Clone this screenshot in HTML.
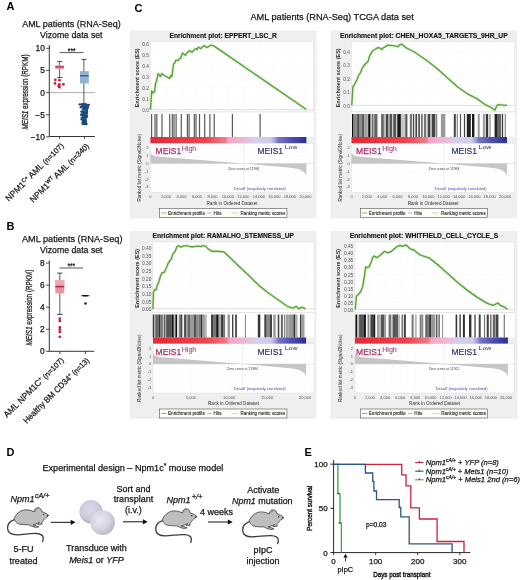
<!DOCTYPE html>
<html><head><meta charset="utf-8"><title>Figure</title>
<style>html,body{margin:0;padding:0;background:#fff;} svg{display:block;filter:blur(0.35px);} text{font-family:"Liberation Sans", sans-serif;} text:not([fill]){stroke:#161616;stroke-width:0.25px;}</style>
</head><body>
<svg width="520" height="580" viewBox="0 0 520 580" fill="#161616" font-family="Liberation Sans, sans-serif">
<rect width="520" height="580" fill="#fff"/>
<rect x="130" y="30.5" width="186.5" height="187.9" fill="#efefef"/>
<text x="223.25" y="37.80" font-size="6.8" font-weight="bold" text-anchor="middle" fill="#111" stroke="#111" stroke-width="0.12" textLength="107.4" lengthAdjust="spacingAndGlyphs">Enrichment plot: EPPERT_LSC_R</text>
<rect x="150.4" y="41.50" width="163.20" height="70.20" fill="#fff" stroke="#d8d8d8" stroke-width="0.4"/>
<line x1="150.4" y1="109.70" x2="313.6" y2="109.70" stroke="#efefef" stroke-width="0.5" stroke-dasharray="1,1"/>
<text x="148.80" y="112.20" font-size="4.8" text-anchor="end" fill="#555">0.0</text>
<line x1="150.4" y1="98.72" x2="313.6" y2="98.72" stroke="#efefef" stroke-width="0.5" stroke-dasharray="1,1"/>
<text x="148.80" y="101.22" font-size="4.8" text-anchor="end" fill="#555">0.1</text>
<line x1="150.4" y1="87.74" x2="313.6" y2="87.74" stroke="#efefef" stroke-width="0.5" stroke-dasharray="1,1"/>
<text x="148.80" y="90.24" font-size="4.8" text-anchor="end" fill="#555">0.2</text>
<line x1="150.4" y1="76.76" x2="313.6" y2="76.76" stroke="#efefef" stroke-width="0.5" stroke-dasharray="1,1"/>
<text x="148.80" y="79.26" font-size="4.8" text-anchor="end" fill="#555">0.3</text>
<line x1="150.4" y1="65.78" x2="313.6" y2="65.78" stroke="#efefef" stroke-width="0.5" stroke-dasharray="1,1"/>
<text x="148.80" y="68.28" font-size="4.8" text-anchor="end" fill="#555">0.4</text>
<line x1="150.4" y1="54.80" x2="313.6" y2="54.80" stroke="#efefef" stroke-width="0.5" stroke-dasharray="1,1"/>
<text x="148.80" y="57.30" font-size="4.8" text-anchor="end" fill="#555">0.5</text>
<line x1="150.4" y1="43.82" x2="313.6" y2="43.82" stroke="#efefef" stroke-width="0.5" stroke-dasharray="1,1"/>
<text x="148.80" y="46.32" font-size="4.8" text-anchor="end" fill="#555">0.6</text>
<line x1="150.4" y1="109.70" x2="313.6" y2="109.70" stroke="#cfcfcf" stroke-width="0.6"/>
<line x1="150.40" y1="41.50" x2="150.40" y2="111.70" stroke="#efefef" stroke-width="0.5" stroke-dasharray="1,1"/>
<line x1="165.90" y1="41.50" x2="165.90" y2="111.70" stroke="#efefef" stroke-width="0.5" stroke-dasharray="1,1"/>
<line x1="181.40" y1="41.50" x2="181.40" y2="111.70" stroke="#efefef" stroke-width="0.5" stroke-dasharray="1,1"/>
<line x1="196.90" y1="41.50" x2="196.90" y2="111.70" stroke="#efefef" stroke-width="0.5" stroke-dasharray="1,1"/>
<line x1="212.40" y1="41.50" x2="212.40" y2="111.70" stroke="#efefef" stroke-width="0.5" stroke-dasharray="1,1"/>
<line x1="227.90" y1="41.50" x2="227.90" y2="111.70" stroke="#efefef" stroke-width="0.5" stroke-dasharray="1,1"/>
<line x1="243.40" y1="41.50" x2="243.40" y2="111.70" stroke="#efefef" stroke-width="0.5" stroke-dasharray="1,1"/>
<line x1="258.90" y1="41.50" x2="258.90" y2="111.70" stroke="#efefef" stroke-width="0.5" stroke-dasharray="1,1"/>
<line x1="274.40" y1="41.50" x2="274.40" y2="111.70" stroke="#efefef" stroke-width="0.5" stroke-dasharray="1,1"/>
<line x1="289.90" y1="41.50" x2="289.90" y2="111.70" stroke="#efefef" stroke-width="0.5" stroke-dasharray="1,1"/>
<line x1="305.40" y1="41.50" x2="305.40" y2="111.70" stroke="#efefef" stroke-width="0.5" stroke-dasharray="1,1"/>
<text x="139.30" y="77.80" font-size="5" font-weight="bold" text-anchor="middle" fill="#333" transform="rotate(-90 139.30 77.80)" textLength="59" lengthAdjust="spacingAndGlyphs">Enrichment score (ES)</text>
<polyline points="150.50,109.70 151.70,90.90 152.70,92.80 154.60,91.80 155.60,83.20 156.50,81.30 158.10,73.60 160.40,76.50 161.90,73.60 164.20,75.50 169.60,78.40 171.00,75.50 171.90,76.50 173.50,64.00 174.80,63.00 175.80,60.10 177.70,60.70 179.20,59.20 180.60,58.20 182.50,53.00 185.40,55.30 186.90,53.00 189.60,50.50 192.10,52.40 193.10,51.10 195.40,48.60 196.90,49.50 198.50,47.20 200.80,48.60 202.70,46.70 204.60,45.70 206.50,47.60 208.50,46.70 210.40,45.30 212.30,45.30 214.20,46.10 306.40,109.50" fill="none" stroke="#d6f3c4" stroke-width="3.2" stroke-linejoin="round" opacity="0.8"/>
<polyline points="150.50,109.70 151.70,90.90 152.70,92.80 154.60,91.80 155.60,83.20 156.50,81.30 158.10,73.60 160.40,76.50 161.90,73.60 164.20,75.50 169.60,78.40 171.00,75.50 171.90,76.50 173.50,64.00 174.80,63.00 175.80,60.10 177.70,60.70 179.20,59.20 180.60,58.20 182.50,53.00 185.40,55.30 186.90,53.00 189.60,50.50 192.10,52.40 193.10,51.10 195.40,48.60 196.90,49.50 198.50,47.20 200.80,48.60 202.70,46.70 204.60,45.70 206.50,47.60 208.50,46.70 210.40,45.30 212.30,45.30 214.20,46.10 306.40,109.50" fill="none" stroke="#5c9c42" stroke-width="1.35" stroke-linejoin="round"/>
<rect x="150.4" y="112.70" width="163.20" height="24.40" fill="#fff"/>
<rect x="151.00" y="114.00" width="1.20" height="23.10" fill="#5a5a5a"/>
<rect x="154.40" y="114.00" width="1.20" height="23.10" fill="#5a5a5a"/>
<rect x="156.20" y="114.00" width="1.20" height="23.10" fill="#5a5a5a"/>
<rect x="161.40" y="114.00" width="1.20" height="23.10" fill="#5a5a5a"/>
<rect x="169.10" y="114.00" width="1.20" height="23.10" fill="#5a5a5a"/>
<rect x="171.70" y="114.00" width="1.20" height="23.10" fill="#5a5a5a"/>
<rect x="173.40" y="114.00" width="1.20" height="23.10" fill="#5a5a5a"/>
<rect x="175.50" y="114.00" width="1.20" height="23.10" fill="#5a5a5a"/>
<rect x="180.70" y="114.00" width="1.20" height="23.10" fill="#5a5a5a"/>
<rect x="186.80" y="114.00" width="1.20" height="23.10" fill="#5a5a5a"/>
<rect x="188.50" y="114.00" width="1.20" height="23.10" fill="#5a5a5a"/>
<rect x="193.70" y="114.00" width="1.20" height="23.10" fill="#5a5a5a"/>
<rect x="195.40" y="114.00" width="1.20" height="23.10" fill="#5a5a5a"/>
<rect x="198.90" y="114.00" width="1.20" height="23.10" fill="#5a5a5a"/>
<rect x="204.10" y="114.00" width="1.20" height="23.10" fill="#5a5a5a"/>
<rect x="209.30" y="114.00" width="1.20" height="23.10" fill="#5a5a5a"/>
<rect x="213.60" y="114.00" width="1.20" height="23.10" fill="#5a5a5a"/>
<rect x="231.80" y="114.00" width="1.20" height="23.10" fill="#5a5a5a"/>
<rect x="259.50" y="114.00" width="1.20" height="23.10" fill="#5a5a5a"/>
<defs><linearGradient id="cb1" x1="0" x2="1" y1="0" y2="0"><stop offset="0" stop-color="#e32a35"/><stop offset="0.35" stop-color="#ec4450"/><stop offset="0.48" stop-color="#f07a88"/><stop offset="0.50" stop-color="#f5a6c4"/><stop offset="0.64" stop-color="#e6c2de"/><stop offset="0.66" stop-color="#d6d0ec"/><stop offset="0.77" stop-color="#cfcbe9"/><stop offset="0.795" stop-color="#aaa6dc"/><stop offset="0.82" stop-color="#7474c4"/><stop offset="0.90" stop-color="#5050b4"/><stop offset="1" stop-color="#2c2c94"/></linearGradient></defs>
<rect x="150.4" y="137.00" width="156.00" height="6.40" fill="url(#cb1)"/>
<rect x="150.4" y="143.40" width="163.20" height="49.10" fill="#fff" stroke="#d8d8d8" stroke-width="0.4"/>
<line x1="150.4" y1="147.90" x2="313.6" y2="147.90" stroke="#efefef" stroke-width="0.5" stroke-dasharray="1,1"/>
<text x="148.60" y="149.30" font-size="4" text-anchor="end" fill="#555">2</text>
<line x1="150.4" y1="155.70" x2="313.6" y2="155.70" stroke="#efefef" stroke-width="0.5" stroke-dasharray="1,1"/>
<text x="148.60" y="157.10" font-size="4" text-anchor="end" fill="#555">1</text>
<text x="148.60" y="164.90" font-size="4" text-anchor="end" fill="#555">0</text>
<line x1="150.4" y1="171.30" x2="313.6" y2="171.30" stroke="#efefef" stroke-width="0.5" stroke-dasharray="1,1"/>
<text x="148.60" y="172.70" font-size="4" text-anchor="end" fill="#555">-1</text>
<line x1="150.4" y1="179.10" x2="313.6" y2="179.10" stroke="#efefef" stroke-width="0.5" stroke-dasharray="1,1"/>
<text x="148.60" y="180.50" font-size="4" text-anchor="end" fill="#555">-2</text>
<line x1="150.4" y1="186.90" x2="313.6" y2="186.90" stroke="#efefef" stroke-width="0.5" stroke-dasharray="1,1"/>
<text x="148.60" y="188.30" font-size="4" text-anchor="end" fill="#555">-3</text>
<line x1="150.40" y1="143.40" x2="150.40" y2="192.50" stroke="#efefef" stroke-width="0.5" stroke-dasharray="1,1"/>
<line x1="165.90" y1="143.40" x2="165.90" y2="192.50" stroke="#efefef" stroke-width="0.5" stroke-dasharray="1,1"/>
<line x1="181.40" y1="143.40" x2="181.40" y2="192.50" stroke="#efefef" stroke-width="0.5" stroke-dasharray="1,1"/>
<line x1="196.90" y1="143.40" x2="196.90" y2="192.50" stroke="#efefef" stroke-width="0.5" stroke-dasharray="1,1"/>
<line x1="212.40" y1="143.40" x2="212.40" y2="192.50" stroke="#efefef" stroke-width="0.5" stroke-dasharray="1,1"/>
<line x1="227.90" y1="143.40" x2="227.90" y2="192.50" stroke="#efefef" stroke-width="0.5" stroke-dasharray="1,1"/>
<line x1="243.40" y1="143.40" x2="243.40" y2="192.50" stroke="#efefef" stroke-width="0.5" stroke-dasharray="1,1"/>
<line x1="258.90" y1="143.40" x2="258.90" y2="192.50" stroke="#efefef" stroke-width="0.5" stroke-dasharray="1,1"/>
<line x1="274.40" y1="143.40" x2="274.40" y2="192.50" stroke="#efefef" stroke-width="0.5" stroke-dasharray="1,1"/>
<line x1="289.90" y1="143.40" x2="289.90" y2="192.50" stroke="#efefef" stroke-width="0.5" stroke-dasharray="1,1"/>
<line x1="305.40" y1="143.40" x2="305.40" y2="192.50" stroke="#efefef" stroke-width="0.5" stroke-dasharray="1,1"/>
<path d="M150.4,163.5 L150.4,153.36 C151.9,154.92 153.4,156.09 156.4,156.48 L243.80,163.5 L290.40,167.79 C300.4,168.96 304.9,171.30 306.0,175.20 L306.4,175.59 L306.4,163.5 Z" fill="#c6c6c6"/>
<line x1="150.4" y1="163.50" x2="313.6" y2="163.50" stroke="#c8c8c8" stroke-width="0.4"/>
<line x1="243.80" y1="143.40" x2="243.80" y2="192.50" stroke="#e2e2e2" stroke-width="0.5"/>
<text x="155.60" y="154.20" font-size="9.8" fill="#ad2a66" stroke="#ad2a66" stroke-width="0.25" textLength="25.6" lengthAdjust="spacingAndGlyphs">MEIS1</text>
<text x="181.70" y="151.10" font-size="6.6" fill="#c0407e" stroke="#9a6a80" stroke-width="0.15" textLength="14.6" lengthAdjust="spacingAndGlyphs">High</text>
<text x="257.50" y="154.10" font-size="9.8" fill="#2c3370" stroke="#2c3370" stroke-width="0.2" textLength="25.6" lengthAdjust="spacingAndGlyphs">MEIS1</text>
<text x="284.70" y="149.30" font-size="6" fill="#2c3370" textLength="12.8" lengthAdjust="spacingAndGlyphs">Low</text>
<text x="243.80" y="169.90" font-size="4" fill="#444" text-anchor="middle" textLength="31" lengthAdjust="spacingAndGlyphs">Zero cross at 11984</text>
<text x="233.20" y="189.80" font-size="4" fill="#4646a8" textLength="52.5" lengthAdjust="spacingAndGlyphs">'Desall' (negatively correlated)</text>
<text x="141.40" y="167.75" font-size="4.8" text-anchor="middle" fill="#333" transform="rotate(-90 141.40 167.75)" textLength="67.5" lengthAdjust="spacingAndGlyphs">Ranked list metric (Signal2Noise)</text>
<text x="150.40" y="198.30" font-size="4" text-anchor="middle" fill="#555">0</text>
<text x="165.90" y="198.30" font-size="4" text-anchor="middle" fill="#555">2,000</text>
<text x="181.40" y="198.30" font-size="4" text-anchor="middle" fill="#555">4,000</text>
<text x="196.90" y="198.30" font-size="4" text-anchor="middle" fill="#555">6,000</text>
<text x="212.40" y="198.30" font-size="4" text-anchor="middle" fill="#555">8,000</text>
<text x="227.90" y="198.30" font-size="4" text-anchor="middle" fill="#555">10,000</text>
<text x="243.40" y="198.30" font-size="4" text-anchor="middle" fill="#555">12,000</text>
<text x="258.90" y="198.30" font-size="4" text-anchor="middle" fill="#555">14,000</text>
<text x="274.40" y="198.30" font-size="4" text-anchor="middle" fill="#555">16,000</text>
<text x="289.90" y="198.30" font-size="4" text-anchor="middle" fill="#555">18,000</text>
<text x="305.40" y="198.30" font-size="4" text-anchor="middle" fill="#555">20,000</text>
<text x="232.00" y="204.50" font-size="5.2" text-anchor="middle" fill="#333" textLength="51" lengthAdjust="spacingAndGlyphs">Rank in Ordered Dataset</text>
<rect x="159.65" y="208.50" width="127.3" height="9" fill="#fdfdf8" stroke="#333" stroke-width="0.5"/>
<line x1="161.25" y1="213.00" x2="166.65" y2="213.00" stroke="#66b044" stroke-width="0.8"/>
<text x="168.05" y="214.70" font-size="4.6" fill="#1e1e1e" stroke="#1e1e1e" stroke-width="0.1" textLength="36.9" lengthAdjust="spacingAndGlyphs">Enrichment profile</text>
<line x1="207.65" y1="213.00" x2="211.65" y2="213.00" stroke="#333" stroke-width="0.6" stroke-dasharray="0.8,0.6"/>
<text x="213.55" y="214.70" font-size="4.6" fill="#1e1e1e" stroke="#1e1e1e" stroke-width="0.1" textLength="8" lengthAdjust="spacingAndGlyphs">Hits</text>
<line x1="231.65" y1="213.00" x2="238.55" y2="213.00" stroke="#c8c8c8" stroke-width="0.8"/>
<text x="240.45" y="214.70" font-size="4.6" fill="#1e1e1e" stroke="#1e1e1e" stroke-width="0.1" textLength="44.8" lengthAdjust="spacingAndGlyphs">Ranking metric scores</text>
<rect x="330.5" y="30.5" width="186.8" height="187.9" fill="#efefef"/>
<text x="423.90" y="37.80" font-size="6.8" font-weight="bold" text-anchor="middle" fill="#111" stroke="#111" stroke-width="0.12" textLength="167.7" lengthAdjust="spacingAndGlyphs">Enrichment plot: CHEN_HOXA5_TARGETS_9HR_UP</text>
<rect x="351.5" y="41.50" width="163.30" height="70.20" fill="#fff" stroke="#d8d8d8" stroke-width="0.4"/>
<line x1="351.5" y1="105.40" x2="514.8" y2="105.40" stroke="#efefef" stroke-width="0.5" stroke-dasharray="1,1"/>
<text x="349.90" y="107.90" font-size="4.8" text-anchor="end" fill="#555">0.0</text>
<line x1="351.5" y1="91.93" x2="514.8" y2="91.93" stroke="#efefef" stroke-width="0.5" stroke-dasharray="1,1"/>
<text x="349.90" y="94.43" font-size="4.8" text-anchor="end" fill="#555">0.1</text>
<line x1="351.5" y1="78.45" x2="514.8" y2="78.45" stroke="#efefef" stroke-width="0.5" stroke-dasharray="1,1"/>
<text x="349.90" y="80.95" font-size="4.8" text-anchor="end" fill="#555">0.2</text>
<line x1="351.5" y1="64.98" x2="514.8" y2="64.98" stroke="#efefef" stroke-width="0.5" stroke-dasharray="1,1"/>
<text x="349.90" y="67.48" font-size="4.8" text-anchor="end" fill="#555">0.3</text>
<line x1="351.5" y1="51.50" x2="514.8" y2="51.50" stroke="#efefef" stroke-width="0.5" stroke-dasharray="1,1"/>
<text x="349.90" y="54.00" font-size="4.8" text-anchor="end" fill="#555">0.4</text>
<line x1="351.5" y1="105.40" x2="514.8" y2="105.40" stroke="#cfcfcf" stroke-width="0.6"/>
<line x1="351.50" y1="41.50" x2="351.50" y2="111.70" stroke="#efefef" stroke-width="0.5" stroke-dasharray="1,1"/>
<line x1="366.86" y1="41.50" x2="366.86" y2="111.70" stroke="#efefef" stroke-width="0.5" stroke-dasharray="1,1"/>
<line x1="382.22" y1="41.50" x2="382.22" y2="111.70" stroke="#efefef" stroke-width="0.5" stroke-dasharray="1,1"/>
<line x1="397.58" y1="41.50" x2="397.58" y2="111.70" stroke="#efefef" stroke-width="0.5" stroke-dasharray="1,1"/>
<line x1="412.94" y1="41.50" x2="412.94" y2="111.70" stroke="#efefef" stroke-width="0.5" stroke-dasharray="1,1"/>
<line x1="428.30" y1="41.50" x2="428.30" y2="111.70" stroke="#efefef" stroke-width="0.5" stroke-dasharray="1,1"/>
<line x1="443.66" y1="41.50" x2="443.66" y2="111.70" stroke="#efefef" stroke-width="0.5" stroke-dasharray="1,1"/>
<line x1="459.02" y1="41.50" x2="459.02" y2="111.70" stroke="#efefef" stroke-width="0.5" stroke-dasharray="1,1"/>
<line x1="474.38" y1="41.50" x2="474.38" y2="111.70" stroke="#efefef" stroke-width="0.5" stroke-dasharray="1,1"/>
<line x1="489.74" y1="41.50" x2="489.74" y2="111.70" stroke="#efefef" stroke-width="0.5" stroke-dasharray="1,1"/>
<line x1="505.10" y1="41.50" x2="505.10" y2="111.70" stroke="#efefef" stroke-width="0.5" stroke-dasharray="1,1"/>
<text x="339.80" y="77.80" font-size="5" font-weight="bold" text-anchor="middle" fill="#333" transform="rotate(-90 339.80 77.80)" textLength="59" lengthAdjust="spacingAndGlyphs">Enrichment score (ES)</text>
<polyline points="351.80,105.30 352.80,87.00 354.70,84.20 356.10,81.30 357.20,79.30 358.60,75.50 360.50,72.60 362.40,67.80 364.30,64.90 366.30,63.00 368.20,61.10 369.50,56.30 371.10,53.40 373.00,50.50 374.90,49.50 377.80,47.60 379.70,48.00 381.70,49.50 383.60,47.60 385.50,46.70 387.40,45.10 390.30,45.30 393.20,45.70 396.10,46.10 398.00,46.70 399.90,44.70 401.80,44.20 405.80,47.60 413.50,51.50 419.20,55.30 428.80,62.00 438.50,69.70 448.10,78.40 457.70,87.00 467.30,93.80 476.90,98.60 484.60,104.30 490.40,107.20 495.00,110.10 496.80,105.50 498.50,104.60 501.50,104.90 504.60,105.40 506.90,104.90" fill="none" stroke="#d6f3c4" stroke-width="3.2" stroke-linejoin="round" opacity="0.8"/>
<polyline points="351.80,105.30 352.80,87.00 354.70,84.20 356.10,81.30 357.20,79.30 358.60,75.50 360.50,72.60 362.40,67.80 364.30,64.90 366.30,63.00 368.20,61.10 369.50,56.30 371.10,53.40 373.00,50.50 374.90,49.50 377.80,47.60 379.70,48.00 381.70,49.50 383.60,47.60 385.50,46.70 387.40,45.10 390.30,45.30 393.20,45.70 396.10,46.10 398.00,46.70 399.90,44.70 401.80,44.20 405.80,47.60 413.50,51.50 419.20,55.30 428.80,62.00 438.50,69.70 448.10,78.40 457.70,87.00 467.30,93.80 476.90,98.60 484.60,104.30 490.40,107.20 495.00,110.10 496.80,105.50 498.50,104.60 501.50,104.90 504.60,105.40 506.90,104.90" fill="none" stroke="#5c9c42" stroke-width="1.35" stroke-linejoin="round"/>
<rect x="351.5" y="112.70" width="163.30" height="24.40" fill="#fff"/>
<rect x="352.00" y="114.00" width="1.60" height="23.10" fill="#111"/>
<rect x="353.60" y="114.00" width="3.70" height="23.10" fill="#8a8a8a"/>
<rect x="357.30" y="114.00" width="1.60" height="23.10" fill="#333"/>
<rect x="358.90" y="114.00" width="3.20" height="23.10" fill="#8a8a8a"/>
<rect x="362.10" y="114.00" width="2.00" height="23.10" fill="#555"/>
<rect x="364.10" y="114.00" width="3.70" height="23.10" fill="#a0a0a0"/>
<rect x="368.20" y="114.00" width="2.40" height="23.10" fill="#111"/>
<rect x="370.60" y="114.00" width="1.60" height="23.10" fill="#c8c8c8"/>
<rect x="372.20" y="114.00" width="1.20" height="23.10" fill="#444"/>
<rect x="373.40" y="114.00" width="0.80" height="23.10" fill="#aaa"/>
<rect x="374.20" y="114.00" width="3.30" height="23.10" fill="#666"/>
<rect x="381.10" y="114.00" width="2.80" height="23.10" fill="#666"/>
<rect x="383.90" y="114.00" width="2.10" height="23.10" fill="#bbb"/>
<rect x="386.00" y="114.00" width="2.00" height="23.10" fill="#444"/>
<rect x="388.00" y="114.00" width="1.60" height="23.10" fill="#aaa"/>
<rect x="389.60" y="114.00" width="2.80" height="23.10" fill="#555"/>
<rect x="392.40" y="114.00" width="0.80" height="23.10" fill="#ddd"/>
<rect x="393.20" y="114.00" width="2.80" height="23.10" fill="#555"/>
<rect x="396.00" y="114.00" width="1.30" height="23.10" fill="#ccc"/>
<rect x="397.30" y="114.00" width="3.60" height="23.10" fill="#181818"/>
<rect x="400.90" y="114.00" width="4.40" height="23.10" fill="#c8c8c8"/>
<rect x="405.30" y="114.00" width="2.10" height="23.10" fill="#555"/>
<rect x="409.80" y="114.00" width="2.40" height="23.10" fill="#777"/>
<rect x="413.00" y="114.00" width="1.20" height="23.10" fill="#444"/>
<rect x="415.40" y="114.00" width="1.70" height="23.10" fill="#444"/>
<rect x="418.30" y="114.00" width="1.60" height="23.10" fill="#444"/>
<rect x="421.10" y="114.00" width="1.60" height="23.10" fill="#666"/>
<rect x="423.90" y="114.00" width="2.40" height="23.10" fill="#777"/>
<rect x="427.60" y="114.00" width="2.80" height="23.10" fill="#444"/>
<rect x="431.60" y="114.00" width="3.70" height="23.10" fill="#444"/>
<rect x="435.70" y="114.00" width="1.60" height="23.10" fill="#888"/>
<rect x="440.90" y="114.00" width="4.40" height="23.10" fill="#999"/>
<rect x="453.80" y="114.00" width="2.00" height="23.10" fill="#444"/>
<rect x="456.70" y="114.00" width="1.20" height="23.10" fill="#888"/>
<rect x="459.90" y="114.00" width="1.20" height="23.10" fill="#555"/>
<rect x="463.90" y="114.00" width="1.20" height="23.10" fill="#444"/>
<rect x="466.80" y="114.00" width="4.00" height="23.10" fill="#222"/>
<rect x="472.00" y="114.00" width="2.40" height="23.10" fill="#1a1a1a"/>
<rect x="477.70" y="114.00" width="2.00" height="23.10" fill="#999"/>
<rect x="482.90" y="114.00" width="2.00" height="23.10" fill="#999"/>
<rect x="485.80" y="114.00" width="2.40" height="23.10" fill="#333"/>
<rect x="489.40" y="114.00" width="1.20" height="23.10" fill="#888"/>
<rect x="494.60" y="114.00" width="2.40" height="23.10" fill="#222"/>
<rect x="497.00" y="114.00" width="4.10" height="23.10" fill="#666"/>
<rect x="501.90" y="114.00" width="1.20" height="23.10" fill="#333"/>
<rect x="504.70" y="114.00" width="1.20" height="23.10" fill="#888"/>
<defs><linearGradient id="cb2" x1="0" x2="1" y1="0" y2="0"><stop offset="0" stop-color="#e32a35"/><stop offset="0.35" stop-color="#ec4450"/><stop offset="0.48" stop-color="#f07a88"/><stop offset="0.50" stop-color="#f5a6c4"/><stop offset="0.64" stop-color="#e6c2de"/><stop offset="0.66" stop-color="#d6d0ec"/><stop offset="0.77" stop-color="#cfcbe9"/><stop offset="0.795" stop-color="#aaa6dc"/><stop offset="0.82" stop-color="#7474c4"/><stop offset="0.90" stop-color="#5050b4"/><stop offset="1" stop-color="#2c2c94"/></linearGradient></defs>
<rect x="351.5" y="137.00" width="155.50" height="6.40" fill="url(#cb2)"/>
<rect x="351.5" y="143.40" width="163.30" height="49.10" fill="#fff" stroke="#d8d8d8" stroke-width="0.4"/>
<line x1="351.5" y1="147.90" x2="514.8" y2="147.90" stroke="#efefef" stroke-width="0.5" stroke-dasharray="1,1"/>
<text x="349.70" y="149.30" font-size="4" text-anchor="end" fill="#555">2</text>
<line x1="351.5" y1="155.70" x2="514.8" y2="155.70" stroke="#efefef" stroke-width="0.5" stroke-dasharray="1,1"/>
<text x="349.70" y="157.10" font-size="4" text-anchor="end" fill="#555">1</text>
<text x="349.70" y="164.90" font-size="4" text-anchor="end" fill="#555">0</text>
<line x1="351.5" y1="171.30" x2="514.8" y2="171.30" stroke="#efefef" stroke-width="0.5" stroke-dasharray="1,1"/>
<text x="349.70" y="172.70" font-size="4" text-anchor="end" fill="#555">-1</text>
<line x1="351.5" y1="179.10" x2="514.8" y2="179.10" stroke="#efefef" stroke-width="0.5" stroke-dasharray="1,1"/>
<text x="349.70" y="180.50" font-size="4" text-anchor="end" fill="#555">-2</text>
<line x1="351.5" y1="186.90" x2="514.8" y2="186.90" stroke="#efefef" stroke-width="0.5" stroke-dasharray="1,1"/>
<text x="349.70" y="188.30" font-size="4" text-anchor="end" fill="#555">-3</text>
<line x1="351.50" y1="143.40" x2="351.50" y2="192.50" stroke="#efefef" stroke-width="0.5" stroke-dasharray="1,1"/>
<line x1="366.86" y1="143.40" x2="366.86" y2="192.50" stroke="#efefef" stroke-width="0.5" stroke-dasharray="1,1"/>
<line x1="382.22" y1="143.40" x2="382.22" y2="192.50" stroke="#efefef" stroke-width="0.5" stroke-dasharray="1,1"/>
<line x1="397.58" y1="143.40" x2="397.58" y2="192.50" stroke="#efefef" stroke-width="0.5" stroke-dasharray="1,1"/>
<line x1="412.94" y1="143.40" x2="412.94" y2="192.50" stroke="#efefef" stroke-width="0.5" stroke-dasharray="1,1"/>
<line x1="428.30" y1="143.40" x2="428.30" y2="192.50" stroke="#efefef" stroke-width="0.5" stroke-dasharray="1,1"/>
<line x1="443.66" y1="143.40" x2="443.66" y2="192.50" stroke="#efefef" stroke-width="0.5" stroke-dasharray="1,1"/>
<line x1="459.02" y1="143.40" x2="459.02" y2="192.50" stroke="#efefef" stroke-width="0.5" stroke-dasharray="1,1"/>
<line x1="474.38" y1="143.40" x2="474.38" y2="192.50" stroke="#efefef" stroke-width="0.5" stroke-dasharray="1,1"/>
<line x1="489.74" y1="143.40" x2="489.74" y2="192.50" stroke="#efefef" stroke-width="0.5" stroke-dasharray="1,1"/>
<line x1="505.10" y1="143.40" x2="505.10" y2="192.50" stroke="#efefef" stroke-width="0.5" stroke-dasharray="1,1"/>
<path d="M351.5,163.5 L351.5,153.36 C353.0,154.92 354.5,156.09 357.5,156.48 L444.00,163.5 L491.00,167.79 C501.0,168.96 505.5,171.30 506.6,175.20 L507.0,175.59 L507.0,163.5 Z" fill="#c6c6c6"/>
<line x1="351.5" y1="163.50" x2="514.8" y2="163.50" stroke="#c8c8c8" stroke-width="0.4"/>
<line x1="444.00" y1="143.40" x2="444.00" y2="192.50" stroke="#e2e2e2" stroke-width="0.5"/>
<text x="356.10" y="154.20" font-size="9.8" fill="#ad2a66" stroke="#ad2a66" stroke-width="0.25" textLength="25.6" lengthAdjust="spacingAndGlyphs">MEIS1</text>
<text x="382.20" y="151.10" font-size="6.6" fill="#c0407e" stroke="#9a6a80" stroke-width="0.15" textLength="14.6" lengthAdjust="spacingAndGlyphs">High</text>
<text x="451.40" y="154.10" font-size="9.8" fill="#2c3370" stroke="#2c3370" stroke-width="0.2" textLength="25.6" lengthAdjust="spacingAndGlyphs">MEIS1</text>
<text x="478.60" y="149.30" font-size="6" fill="#2c3370" textLength="12.8" lengthAdjust="spacingAndGlyphs">Low</text>
<text x="444.00" y="169.90" font-size="4" fill="#444" text-anchor="middle" textLength="31" lengthAdjust="spacingAndGlyphs">Zero cross at 11984</text>
<text x="434.10" y="189.80" font-size="4" fill="#4646a8" textLength="52.5" lengthAdjust="spacingAndGlyphs">'Desall' (negatively correlated)</text>
<text x="341.90" y="167.75" font-size="4.8" text-anchor="middle" fill="#333" transform="rotate(-90 341.90 167.75)" textLength="67.5" lengthAdjust="spacingAndGlyphs">Ranked list metric (Signal2Noise)</text>
<text x="351.50" y="198.30" font-size="4" text-anchor="middle" fill="#555">0</text>
<text x="366.86" y="198.30" font-size="4" text-anchor="middle" fill="#555">2,000</text>
<text x="382.22" y="198.30" font-size="4" text-anchor="middle" fill="#555">4,000</text>
<text x="397.58" y="198.30" font-size="4" text-anchor="middle" fill="#555">6,000</text>
<text x="412.94" y="198.30" font-size="4" text-anchor="middle" fill="#555">8,000</text>
<text x="428.30" y="198.30" font-size="4" text-anchor="middle" fill="#555">10,000</text>
<text x="443.66" y="198.30" font-size="4" text-anchor="middle" fill="#555">12,000</text>
<text x="459.02" y="198.30" font-size="4" text-anchor="middle" fill="#555">14,000</text>
<text x="474.38" y="198.30" font-size="4" text-anchor="middle" fill="#555">16,000</text>
<text x="489.74" y="198.30" font-size="4" text-anchor="middle" fill="#555">18,000</text>
<text x="505.10" y="198.30" font-size="4" text-anchor="middle" fill="#555">20,000</text>
<text x="433.15" y="204.50" font-size="5.2" text-anchor="middle" fill="#333" textLength="51" lengthAdjust="spacingAndGlyphs">Rank in Ordered Dataset</text>
<rect x="360.30" y="208.50" width="127.3" height="9" fill="#fdfdf8" stroke="#333" stroke-width="0.5"/>
<line x1="361.90" y1="213.00" x2="367.30" y2="213.00" stroke="#66b044" stroke-width="0.8"/>
<text x="368.70" y="214.70" font-size="4.6" fill="#1e1e1e" stroke="#1e1e1e" stroke-width="0.1" textLength="36.9" lengthAdjust="spacingAndGlyphs">Enrichment profile</text>
<line x1="408.30" y1="213.00" x2="412.30" y2="213.00" stroke="#333" stroke-width="0.6" stroke-dasharray="0.8,0.6"/>
<text x="414.20" y="214.70" font-size="4.6" fill="#1e1e1e" stroke="#1e1e1e" stroke-width="0.1" textLength="8" lengthAdjust="spacingAndGlyphs">Hits</text>
<line x1="432.30" y1="213.00" x2="439.20" y2="213.00" stroke="#c8c8c8" stroke-width="0.8"/>
<text x="441.10" y="214.70" font-size="4.6" fill="#1e1e1e" stroke="#1e1e1e" stroke-width="0.1" textLength="44.8" lengthAdjust="spacingAndGlyphs">Ranking metric scores</text>
<rect x="130" y="231" width="186.5" height="187.9" fill="#efefef"/>
<text x="223.25" y="238.30" font-size="6.8" font-weight="bold" text-anchor="middle" fill="#111" stroke="#111" stroke-width="0.12" textLength="141.5" lengthAdjust="spacingAndGlyphs">Enrichment plot: RAMALHO_STEMNESS_UP</text>
<rect x="153" y="242.00" width="161.00" height="70.20" fill="#fff" stroke="#d8d8d8" stroke-width="0.4"/>
<line x1="153" y1="308.80" x2="314.0" y2="308.80" stroke="#efefef" stroke-width="0.5" stroke-dasharray="1,1"/>
<text x="151.40" y="311.30" font-size="4.8" text-anchor="end" fill="#555">0.00</text>
<line x1="153" y1="301.15" x2="314.0" y2="301.15" stroke="#efefef" stroke-width="0.5" stroke-dasharray="1,1"/>
<text x="151.40" y="303.65" font-size="4.8" text-anchor="end" fill="#555">0.05</text>
<line x1="153" y1="293.50" x2="314.0" y2="293.50" stroke="#efefef" stroke-width="0.5" stroke-dasharray="1,1"/>
<text x="151.40" y="296.00" font-size="4.8" text-anchor="end" fill="#555">0.10</text>
<line x1="153" y1="285.85" x2="314.0" y2="285.85" stroke="#efefef" stroke-width="0.5" stroke-dasharray="1,1"/>
<text x="151.40" y="288.35" font-size="4.8" text-anchor="end" fill="#555">0.15</text>
<line x1="153" y1="278.20" x2="314.0" y2="278.20" stroke="#efefef" stroke-width="0.5" stroke-dasharray="1,1"/>
<text x="151.40" y="280.70" font-size="4.8" text-anchor="end" fill="#555">0.20</text>
<line x1="153" y1="270.55" x2="314.0" y2="270.55" stroke="#efefef" stroke-width="0.5" stroke-dasharray="1,1"/>
<text x="151.40" y="273.05" font-size="4.8" text-anchor="end" fill="#555">0.25</text>
<line x1="153" y1="262.90" x2="314.0" y2="262.90" stroke="#efefef" stroke-width="0.5" stroke-dasharray="1,1"/>
<text x="151.40" y="265.40" font-size="4.8" text-anchor="end" fill="#555">0.30</text>
<line x1="153" y1="255.25" x2="314.0" y2="255.25" stroke="#efefef" stroke-width="0.5" stroke-dasharray="1,1"/>
<text x="151.40" y="257.75" font-size="4.8" text-anchor="end" fill="#555">0.35</text>
<line x1="153" y1="247.60" x2="314.0" y2="247.60" stroke="#efefef" stroke-width="0.5" stroke-dasharray="1,1"/>
<text x="151.40" y="250.10" font-size="4.8" text-anchor="end" fill="#555">0.40</text>
<line x1="153" y1="308.80" x2="314.0" y2="308.80" stroke="#cfcfcf" stroke-width="0.6"/>
<line x1="153.00" y1="242.00" x2="153.00" y2="312.20" stroke="#efefef" stroke-width="0.5" stroke-dasharray="1,1"/>
<line x1="191.03" y1="242.00" x2="191.03" y2="312.20" stroke="#efefef" stroke-width="0.5" stroke-dasharray="1,1"/>
<line x1="229.05" y1="242.00" x2="229.05" y2="312.20" stroke="#efefef" stroke-width="0.5" stroke-dasharray="1,1"/>
<line x1="267.08" y1="242.00" x2="267.08" y2="312.20" stroke="#efefef" stroke-width="0.5" stroke-dasharray="1,1"/>
<line x1="305.10" y1="242.00" x2="305.10" y2="312.20" stroke="#efefef" stroke-width="0.5" stroke-dasharray="1,1"/>
<text x="139.30" y="278.30" font-size="5" font-weight="bold" text-anchor="middle" fill="#333" transform="rotate(-90 139.30 278.30)" textLength="59" lengthAdjust="spacingAndGlyphs">Enrichment score (ES)</text>
<polyline points="152.90,309.00 153.50,291.80 154.80,289.50 156.20,289.90 157.30,285.10 158.70,282.20 160.60,275.50 161.90,273.00 164.40,272.20 165.40,269.70 166.90,266.80 168.30,263.00 171.20,259.20 173.10,253.40 175.00,251.80 176.90,246.70 178.80,245.70 180.80,247.20 182.70,246.10 186.50,245.70 190.40,246.70 194.20,246.70 198.10,246.10 201.00,246.70 202.90,245.70 205.80,246.10 207.70,248.60 210.60,250.50 213.50,251.50 216.30,251.10 219.20,251.50 220.00,251.50 223.80,251.80 229.60,257.20 239.20,266.50 248.80,275.50 258.50,285.10 268.10,292.80 277.70,299.50 287.30,306.30 293.10,308.20 296.00,306.30 298.80,308.80 301.70,307.20 305.60,308.80" fill="none" stroke="#d6f3c4" stroke-width="3.2" stroke-linejoin="round" opacity="0.8"/>
<polyline points="152.90,309.00 153.50,291.80 154.80,289.50 156.20,289.90 157.30,285.10 158.70,282.20 160.60,275.50 161.90,273.00 164.40,272.20 165.40,269.70 166.90,266.80 168.30,263.00 171.20,259.20 173.10,253.40 175.00,251.80 176.90,246.70 178.80,245.70 180.80,247.20 182.70,246.10 186.50,245.70 190.40,246.70 194.20,246.70 198.10,246.10 201.00,246.70 202.90,245.70 205.80,246.10 207.70,248.60 210.60,250.50 213.50,251.50 216.30,251.10 219.20,251.50 220.00,251.50 223.80,251.80 229.60,257.20 239.20,266.50 248.80,275.50 258.50,285.10 268.10,292.80 277.70,299.50 287.30,306.30 293.10,308.20 296.00,306.30 298.80,308.80 301.70,307.20 305.60,308.80" fill="none" stroke="#5c9c42" stroke-width="1.35" stroke-linejoin="round"/>
<rect x="153" y="313.20" width="161.00" height="24.40" fill="#fff"/>
<rect x="152.80" y="314.50" width="1.60" height="23.10" fill="#333"/>
<rect x="154.40" y="314.50" width="0.80" height="23.10" fill="#bbb"/>
<rect x="155.20" y="314.50" width="3.30" height="23.10" fill="#666"/>
<rect x="158.50" y="314.50" width="1.60" height="23.10" fill="#333"/>
<rect x="160.10" y="314.50" width="2.80" height="23.10" fill="#777"/>
<rect x="162.90" y="314.50" width="1.20" height="23.10" fill="#bbb"/>
<rect x="164.10" y="314.50" width="0.80" height="23.10" fill="#333"/>
<rect x="164.90" y="314.50" width="1.20" height="23.10" fill="#aaa"/>
<rect x="166.10" y="314.50" width="5.70" height="23.10" fill="#555"/>
<rect x="171.80" y="314.50" width="2.00" height="23.10" fill="#111"/>
<rect x="173.80" y="314.50" width="1.60" height="23.10" fill="#bbb"/>
<rect x="175.40" y="314.50" width="1.60" height="23.10" fill="#111"/>
<rect x="177.00" y="314.50" width="2.10" height="23.10" fill="#ddd"/>
<rect x="179.10" y="314.50" width="1.20" height="23.10" fill="#777"/>
<rect x="180.30" y="314.50" width="2.00" height="23.10" fill="#444"/>
<rect x="183.90" y="314.50" width="2.10" height="23.10" fill="#555"/>
<rect x="186.00" y="314.50" width="2.00" height="23.10" fill="#999"/>
<rect x="188.00" y="314.50" width="2.00" height="23.10" fill="#666"/>
<rect x="190.00" y="314.50" width="2.00" height="23.10" fill="#999"/>
<rect x="192.00" y="314.50" width="1.60" height="23.10" fill="#999"/>
<rect x="193.60" y="314.50" width="2.40" height="23.10" fill="#555"/>
<rect x="196.00" y="314.50" width="2.50" height="23.10" fill="#888"/>
<rect x="198.50" y="314.50" width="2.00" height="23.10" fill="#777"/>
<rect x="200.50" y="314.50" width="2.00" height="23.10" fill="#333"/>
<rect x="202.50" y="314.50" width="2.40" height="23.10" fill="#999"/>
<rect x="204.90" y="314.50" width="2.00" height="23.10" fill="#bbb"/>
<rect x="211.00" y="314.50" width="2.00" height="23.10" fill="#444"/>
<rect x="213.00" y="314.50" width="3.20" height="23.10" fill="#777"/>
<rect x="216.20" y="314.50" width="2.50" height="23.10" fill="#111"/>
<rect x="218.70" y="314.50" width="2.40" height="23.10" fill="#aaa"/>
<rect x="221.10" y="314.50" width="2.00" height="23.10" fill="#333"/>
<rect x="223.10" y="314.50" width="2.00" height="23.10" fill="#777"/>
<rect x="227.50" y="314.50" width="2.50" height="23.10" fill="#999"/>
<rect x="232.00" y="314.50" width="1.40" height="23.10" fill="#444"/>
<rect x="235.20" y="314.50" width="1.60" height="23.10" fill="#333"/>
<rect x="244.90" y="314.50" width="0.80" height="23.10" fill="#666"/>
<rect x="257.80" y="314.50" width="2.50" height="23.10" fill="#333"/>
<rect x="264.30" y="314.50" width="2.40" height="23.10" fill="#444"/>
<rect x="266.70" y="314.50" width="3.30" height="23.10" fill="#888"/>
<rect x="270.00" y="314.50" width="2.00" height="23.10" fill="#444"/>
<rect x="273.20" y="314.50" width="2.50" height="23.10" fill="#999"/>
<rect x="277.70" y="314.50" width="1.60" height="23.10" fill="#444"/>
<rect x="280.90" y="314.50" width="2.00" height="23.10" fill="#666"/>
<rect x="284.10" y="314.50" width="1.20" height="23.10" fill="#777"/>
<rect x="286.20" y="314.50" width="1.60" height="23.10" fill="#888"/>
<rect x="288.20" y="314.50" width="5.20" height="23.10" fill="#999"/>
<rect x="293.40" y="314.50" width="1.60" height="23.10" fill="#333"/>
<rect x="295.00" y="314.50" width="2.50" height="23.10" fill="#aaa"/>
<rect x="299.90" y="314.50" width="1.60" height="23.10" fill="#444"/>
<rect x="301.50" y="314.50" width="2.40" height="23.10" fill="#999"/>
<rect x="304.30" y="314.50" width="0.80" height="23.10" fill="#bbb"/>
<defs><linearGradient id="cb3" x1="0" x2="1" y1="0" y2="0"><stop offset="0" stop-color="#e32a35"/><stop offset="0.35" stop-color="#ec4450"/><stop offset="0.48" stop-color="#f07a88"/><stop offset="0.50" stop-color="#f5a6c4"/><stop offset="0.64" stop-color="#e6c2de"/><stop offset="0.66" stop-color="#d6d0ec"/><stop offset="0.77" stop-color="#cfcbe9"/><stop offset="0.795" stop-color="#aaa6dc"/><stop offset="0.82" stop-color="#7474c4"/><stop offset="0.90" stop-color="#5050b4"/><stop offset="1" stop-color="#2c2c94"/></linearGradient></defs>
<rect x="153" y="337.50" width="153.10" height="6.40" fill="url(#cb3)"/>
<rect x="153" y="343.90" width="161.00" height="49.10" fill="#fff" stroke="#d8d8d8" stroke-width="0.4"/>
<line x1="153" y1="348.40" x2="314.0" y2="348.40" stroke="#efefef" stroke-width="0.5" stroke-dasharray="1,1"/>
<text x="151.20" y="349.80" font-size="4" text-anchor="end" fill="#555">2</text>
<line x1="153" y1="356.20" x2="314.0" y2="356.20" stroke="#efefef" stroke-width="0.5" stroke-dasharray="1,1"/>
<text x="151.20" y="357.60" font-size="4" text-anchor="end" fill="#555">1</text>
<text x="151.20" y="365.40" font-size="4" text-anchor="end" fill="#555">0</text>
<line x1="153" y1="371.80" x2="314.0" y2="371.80" stroke="#efefef" stroke-width="0.5" stroke-dasharray="1,1"/>
<text x="151.20" y="373.20" font-size="4" text-anchor="end" fill="#555">-1</text>
<line x1="153" y1="379.60" x2="314.0" y2="379.60" stroke="#efefef" stroke-width="0.5" stroke-dasharray="1,1"/>
<text x="151.20" y="381.00" font-size="4" text-anchor="end" fill="#555">-2</text>
<line x1="153" y1="387.40" x2="314.0" y2="387.40" stroke="#efefef" stroke-width="0.5" stroke-dasharray="1,1"/>
<text x="151.20" y="388.80" font-size="4" text-anchor="end" fill="#555">-3</text>
<line x1="153.00" y1="343.90" x2="153.00" y2="393.00" stroke="#efefef" stroke-width="0.5" stroke-dasharray="1,1"/>
<line x1="191.03" y1="343.90" x2="191.03" y2="393.00" stroke="#efefef" stroke-width="0.5" stroke-dasharray="1,1"/>
<line x1="229.05" y1="343.90" x2="229.05" y2="393.00" stroke="#efefef" stroke-width="0.5" stroke-dasharray="1,1"/>
<line x1="267.08" y1="343.90" x2="267.08" y2="393.00" stroke="#efefef" stroke-width="0.5" stroke-dasharray="1,1"/>
<line x1="305.10" y1="343.90" x2="305.10" y2="393.00" stroke="#efefef" stroke-width="0.5" stroke-dasharray="1,1"/>
<path d="M153,364.0 L153,353.86 C154.5,355.42 156,356.59 159,356.98 L242.50,364.0 L290.10,368.29 C300.1,369.46 304.6,371.80 305.70000000000005,375.70 L306.1,376.09 L306.1,364.0 Z" fill="#c6c6c6"/>
<line x1="153" y1="364.00" x2="314.0" y2="364.00" stroke="#c8c8c8" stroke-width="0.4"/>
<line x1="242.50" y1="343.90" x2="242.50" y2="393.00" stroke="#e2e2e2" stroke-width="0.5"/>
<text x="155.60" y="354.70" font-size="9.8" fill="#ad2a66" stroke="#ad2a66" stroke-width="0.25" textLength="25.6" lengthAdjust="spacingAndGlyphs">MEIS1</text>
<text x="181.70" y="351.60" font-size="6.6" fill="#c0407e" stroke="#9a6a80" stroke-width="0.15" textLength="14.6" lengthAdjust="spacingAndGlyphs">High</text>
<text x="257.50" y="354.60" font-size="9.8" fill="#2c3370" stroke="#2c3370" stroke-width="0.2" textLength="25.6" lengthAdjust="spacingAndGlyphs">MEIS1</text>
<text x="284.70" y="349.80" font-size="6" fill="#2c3370" textLength="12.8" lengthAdjust="spacingAndGlyphs">Low</text>
<text x="242.50" y="370.40" font-size="4" fill="#444" text-anchor="middle" textLength="31" lengthAdjust="spacingAndGlyphs">Zero cross at 11984</text>
<text x="233.20" y="390.30" font-size="4" fill="#4646a8" textLength="52.5" lengthAdjust="spacingAndGlyphs">'Desall' (negatively correlated)</text>
<text x="141.40" y="368.25" font-size="4.8" text-anchor="middle" fill="#333" transform="rotate(-90 141.40 368.25)" textLength="67.5" lengthAdjust="spacingAndGlyphs">Ranked list metric (Signal2Noise)</text>
<text x="153.00" y="398.80" font-size="4" text-anchor="middle" fill="#555">0</text>
<text x="191.03" y="398.80" font-size="4" text-anchor="middle" fill="#555">5,000</text>
<text x="229.05" y="398.80" font-size="4" text-anchor="middle" fill="#555">10,000</text>
<text x="267.08" y="398.80" font-size="4" text-anchor="middle" fill="#555">15,000</text>
<text x="305.10" y="398.80" font-size="4" text-anchor="middle" fill="#555">20,000</text>
<text x="233.50" y="405.00" font-size="5.2" text-anchor="middle" fill="#333" textLength="51" lengthAdjust="spacingAndGlyphs">Rank in Ordered Dataset</text>
<rect x="159.65" y="409.00" width="127.3" height="9" fill="#fdfdf8" stroke="#333" stroke-width="0.5"/>
<line x1="161.25" y1="413.50" x2="166.65" y2="413.50" stroke="#66b044" stroke-width="0.8"/>
<text x="168.05" y="415.20" font-size="4.6" fill="#1e1e1e" stroke="#1e1e1e" stroke-width="0.1" textLength="36.9" lengthAdjust="spacingAndGlyphs">Enrichment profile</text>
<line x1="207.65" y1="413.50" x2="211.65" y2="413.50" stroke="#333" stroke-width="0.6" stroke-dasharray="0.8,0.6"/>
<text x="213.55" y="415.20" font-size="4.6" fill="#1e1e1e" stroke="#1e1e1e" stroke-width="0.1" textLength="8" lengthAdjust="spacingAndGlyphs">Hits</text>
<line x1="231.65" y1="413.50" x2="238.55" y2="413.50" stroke="#c8c8c8" stroke-width="0.8"/>
<text x="240.45" y="415.20" font-size="4.6" fill="#1e1e1e" stroke="#1e1e1e" stroke-width="0.1" textLength="44.8" lengthAdjust="spacingAndGlyphs">Ranking metric scores</text>
<rect x="330.5" y="231" width="187" height="187.9" fill="#efefef"/>
<text x="424.00" y="238.30" font-size="6.8" font-weight="bold" text-anchor="middle" fill="#111" stroke="#111" stroke-width="0.12" textLength="148.5" lengthAdjust="spacingAndGlyphs">Enrichment plot: WHITFIELD_CELL_CYCLE_S</text>
<rect x="354.9" y="242.00" width="159.40" height="70.20" fill="#fff" stroke="#d8d8d8" stroke-width="0.4"/>
<line x1="354.9" y1="309.50" x2="514.3" y2="309.50" stroke="#efefef" stroke-width="0.5" stroke-dasharray="1,1"/>
<text x="353.30" y="312.00" font-size="4.8" text-anchor="end" fill="#555">0.00</text>
<line x1="354.9" y1="302.40" x2="514.3" y2="302.40" stroke="#efefef" stroke-width="0.5" stroke-dasharray="1,1"/>
<text x="353.30" y="304.90" font-size="4.8" text-anchor="end" fill="#555">0.05</text>
<line x1="354.9" y1="295.30" x2="514.3" y2="295.30" stroke="#efefef" stroke-width="0.5" stroke-dasharray="1,1"/>
<text x="353.30" y="297.80" font-size="4.8" text-anchor="end" fill="#555">0.10</text>
<line x1="354.9" y1="288.20" x2="514.3" y2="288.20" stroke="#efefef" stroke-width="0.5" stroke-dasharray="1,1"/>
<text x="353.30" y="290.70" font-size="4.8" text-anchor="end" fill="#555">0.15</text>
<line x1="354.9" y1="281.10" x2="514.3" y2="281.10" stroke="#efefef" stroke-width="0.5" stroke-dasharray="1,1"/>
<text x="353.30" y="283.60" font-size="4.8" text-anchor="end" fill="#555">0.20</text>
<line x1="354.9" y1="274.00" x2="514.3" y2="274.00" stroke="#efefef" stroke-width="0.5" stroke-dasharray="1,1"/>
<text x="353.30" y="276.50" font-size="4.8" text-anchor="end" fill="#555">0.25</text>
<line x1="354.9" y1="266.90" x2="514.3" y2="266.90" stroke="#efefef" stroke-width="0.5" stroke-dasharray="1,1"/>
<text x="353.30" y="269.40" font-size="4.8" text-anchor="end" fill="#555">0.30</text>
<line x1="354.9" y1="259.80" x2="514.3" y2="259.80" stroke="#efefef" stroke-width="0.5" stroke-dasharray="1,1"/>
<text x="353.30" y="262.30" font-size="4.8" text-anchor="end" fill="#555">0.35</text>
<line x1="354.9" y1="252.70" x2="514.3" y2="252.70" stroke="#efefef" stroke-width="0.5" stroke-dasharray="1,1"/>
<text x="353.30" y="255.20" font-size="4.8" text-anchor="end" fill="#555">0.40</text>
<line x1="354.9" y1="245.60" x2="514.3" y2="245.60" stroke="#efefef" stroke-width="0.5" stroke-dasharray="1,1"/>
<text x="353.30" y="248.10" font-size="4.8" text-anchor="end" fill="#555">0.45</text>
<line x1="354.9" y1="309.50" x2="514.3" y2="309.50" stroke="#cfcfcf" stroke-width="0.6"/>
<line x1="354.90" y1="242.00" x2="354.90" y2="312.20" stroke="#efefef" stroke-width="0.5" stroke-dasharray="1,1"/>
<line x1="370.01" y1="242.00" x2="370.01" y2="312.20" stroke="#efefef" stroke-width="0.5" stroke-dasharray="1,1"/>
<line x1="385.12" y1="242.00" x2="385.12" y2="312.20" stroke="#efefef" stroke-width="0.5" stroke-dasharray="1,1"/>
<line x1="400.23" y1="242.00" x2="400.23" y2="312.20" stroke="#efefef" stroke-width="0.5" stroke-dasharray="1,1"/>
<line x1="415.34" y1="242.00" x2="415.34" y2="312.20" stroke="#efefef" stroke-width="0.5" stroke-dasharray="1,1"/>
<line x1="430.45" y1="242.00" x2="430.45" y2="312.20" stroke="#efefef" stroke-width="0.5" stroke-dasharray="1,1"/>
<line x1="445.56" y1="242.00" x2="445.56" y2="312.20" stroke="#efefef" stroke-width="0.5" stroke-dasharray="1,1"/>
<line x1="460.67" y1="242.00" x2="460.67" y2="312.20" stroke="#efefef" stroke-width="0.5" stroke-dasharray="1,1"/>
<line x1="475.78" y1="242.00" x2="475.78" y2="312.20" stroke="#efefef" stroke-width="0.5" stroke-dasharray="1,1"/>
<line x1="490.89" y1="242.00" x2="490.89" y2="312.20" stroke="#efefef" stroke-width="0.5" stroke-dasharray="1,1"/>
<line x1="506.00" y1="242.00" x2="506.00" y2="312.20" stroke="#efefef" stroke-width="0.5" stroke-dasharray="1,1"/>
<text x="339.80" y="278.30" font-size="5" font-weight="bold" text-anchor="middle" fill="#333" transform="rotate(-90 339.80 278.30)" textLength="59" lengthAdjust="spacingAndGlyphs">Enrichment score (ES)</text>
<polyline points="355.30,309.50 356.40,296.30 358.00,294.80 360.60,291.70 362.60,287.00 364.20,277.70 365.70,266.90 367.30,267.60 369.30,266.60 370.90,263.00 372.70,257.60 374.30,256.00 376.60,257.60 378.10,256.80 381.20,254.50 384.30,251.40 388.20,252.90 391.30,251.40 394.10,249.00 397.50,246.30 400.00,245.50 402.50,246.30 406.30,245.00 410.00,248.80 413.80,250.00 417.50,253.00 420.00,254.90 429.60,258.20 439.20,265.90 448.80,274.50 458.50,283.20 468.10,290.90 477.70,297.60 487.30,303.40 493.10,305.30 497.90,303.00 500.80,305.70 504.60,307.20 507.50,309.20" fill="none" stroke="#d6f3c4" stroke-width="3.2" stroke-linejoin="round" opacity="0.8"/>
<polyline points="355.30,309.50 356.40,296.30 358.00,294.80 360.60,291.70 362.60,287.00 364.20,277.70 365.70,266.90 367.30,267.60 369.30,266.60 370.90,263.00 372.70,257.60 374.30,256.00 376.60,257.60 378.10,256.80 381.20,254.50 384.30,251.40 388.20,252.90 391.30,251.40 394.10,249.00 397.50,246.30 400.00,245.50 402.50,246.30 406.30,245.00 410.00,248.80 413.80,250.00 417.50,253.00 420.00,254.90 429.60,258.20 439.20,265.90 448.80,274.50 458.50,283.20 468.10,290.90 477.70,297.60 487.30,303.40 493.10,305.30 497.90,303.00 500.80,305.70 504.60,307.20 507.50,309.20" fill="none" stroke="#5c9c42" stroke-width="1.35" stroke-linejoin="round"/>
<rect x="354.9" y="313.20" width="159.40" height="24.40" fill="#fff"/>
<rect x="355.40" y="314.50" width="1.60" height="23.10" fill="#111"/>
<rect x="357.00" y="314.50" width="2.10" height="23.10" fill="#bbb"/>
<rect x="359.10" y="314.50" width="4.80" height="23.10" fill="#555"/>
<rect x="363.90" y="314.50" width="2.00" height="23.10" fill="#111"/>
<rect x="367.50" y="314.50" width="1.70" height="23.10" fill="#888"/>
<rect x="369.20" y="314.50" width="1.20" height="23.10" fill="#ccc"/>
<rect x="370.40" y="314.50" width="3.60" height="23.10" fill="#444"/>
<rect x="374.00" y="314.50" width="1.20" height="23.10" fill="#111"/>
<rect x="377.20" y="314.50" width="1.60" height="23.10" fill="#888"/>
<rect x="378.80" y="314.50" width="2.10" height="23.10" fill="#bbb"/>
<rect x="380.90" y="314.50" width="3.60" height="23.10" fill="#555"/>
<rect x="384.50" y="314.50" width="1.60" height="23.10" fill="#999"/>
<rect x="388.50" y="314.50" width="2.50" height="23.10" fill="#777"/>
<rect x="391.00" y="314.50" width="1.60" height="23.10" fill="#ccc"/>
<rect x="392.60" y="314.50" width="4.00" height="23.10" fill="#555"/>
<rect x="396.60" y="314.50" width="1.20" height="23.10" fill="#111"/>
<rect x="397.80" y="314.50" width="2.10" height="23.10" fill="#bbb"/>
<rect x="401.50" y="314.50" width="1.60" height="23.10" fill="#777"/>
<rect x="403.90" y="314.50" width="2.00" height="23.10" fill="#444"/>
<rect x="411.60" y="314.50" width="2.00" height="23.10" fill="#777"/>
<rect x="414.80" y="314.50" width="2.00" height="23.10" fill="#bbb"/>
<rect x="419.70" y="314.50" width="1.60" height="23.10" fill="#777"/>
<rect x="421.30" y="314.50" width="2.00" height="23.10" fill="#888"/>
<rect x="425.30" y="314.50" width="1.60" height="23.10" fill="#555"/>
<rect x="426.90" y="314.50" width="2.40" height="23.10" fill="#777"/>
<rect x="429.30" y="314.50" width="1.60" height="23.10" fill="#111"/>
<rect x="430.90" y="314.50" width="4.10" height="23.10" fill="#999"/>
<rect x="435.80" y="314.50" width="1.60" height="23.10" fill="#555"/>
<rect x="438.30" y="314.50" width="1.60" height="23.10" fill="#777"/>
<rect x="441.90" y="314.50" width="1.20" height="23.10" fill="#999"/>
<rect x="455.60" y="314.50" width="1.60" height="23.10" fill="#333"/>
<rect x="459.30" y="314.50" width="1.60" height="23.10" fill="#555"/>
<rect x="462.90" y="314.50" width="2.00" height="23.10" fill="#333"/>
<rect x="469.00" y="314.50" width="2.40" height="23.10" fill="#333"/>
<rect x="474.20" y="314.50" width="1.60" height="23.10" fill="#666"/>
<rect x="478.70" y="314.50" width="2.00" height="23.10" fill="#444"/>
<rect x="483.90" y="314.50" width="1.20" height="23.10" fill="#777"/>
<rect x="486.70" y="314.50" width="2.10" height="23.10" fill="#444"/>
<rect x="490.00" y="314.50" width="1.60" height="23.10" fill="#777"/>
<rect x="492.80" y="314.50" width="2.40" height="23.10" fill="#666"/>
<rect x="495.60" y="314.50" width="2.80" height="23.10" fill="#444"/>
<rect x="503.70" y="314.50" width="1.20" height="23.10" fill="#777"/>
<defs><linearGradient id="cb4" x1="0" x2="1" y1="0" y2="0"><stop offset="0" stop-color="#e32a35"/><stop offset="0.35" stop-color="#ec4450"/><stop offset="0.48" stop-color="#f07a88"/><stop offset="0.50" stop-color="#f5a6c4"/><stop offset="0.64" stop-color="#e6c2de"/><stop offset="0.66" stop-color="#d6d0ec"/><stop offset="0.77" stop-color="#cfcbe9"/><stop offset="0.795" stop-color="#aaa6dc"/><stop offset="0.82" stop-color="#7474c4"/><stop offset="0.90" stop-color="#5050b4"/><stop offset="1" stop-color="#2c2c94"/></linearGradient></defs>
<rect x="354.9" y="337.50" width="153.00" height="6.40" fill="url(#cb4)"/>
<rect x="354.9" y="343.90" width="159.40" height="49.10" fill="#fff" stroke="#d8d8d8" stroke-width="0.4"/>
<line x1="354.9" y1="348.40" x2="514.3" y2="348.40" stroke="#efefef" stroke-width="0.5" stroke-dasharray="1,1"/>
<text x="353.10" y="349.80" font-size="4" text-anchor="end" fill="#555">2</text>
<line x1="354.9" y1="356.20" x2="514.3" y2="356.20" stroke="#efefef" stroke-width="0.5" stroke-dasharray="1,1"/>
<text x="353.10" y="357.60" font-size="4" text-anchor="end" fill="#555">1</text>
<text x="353.10" y="365.40" font-size="4" text-anchor="end" fill="#555">0</text>
<line x1="354.9" y1="371.80" x2="514.3" y2="371.80" stroke="#efefef" stroke-width="0.5" stroke-dasharray="1,1"/>
<text x="353.10" y="373.20" font-size="4" text-anchor="end" fill="#555">-1</text>
<line x1="354.9" y1="379.60" x2="514.3" y2="379.60" stroke="#efefef" stroke-width="0.5" stroke-dasharray="1,1"/>
<text x="353.10" y="381.00" font-size="4" text-anchor="end" fill="#555">-2</text>
<line x1="354.9" y1="387.40" x2="514.3" y2="387.40" stroke="#efefef" stroke-width="0.5" stroke-dasharray="1,1"/>
<text x="353.10" y="388.80" font-size="4" text-anchor="end" fill="#555">-3</text>
<line x1="354.90" y1="343.90" x2="354.90" y2="393.00" stroke="#efefef" stroke-width="0.5" stroke-dasharray="1,1"/>
<line x1="370.01" y1="343.90" x2="370.01" y2="393.00" stroke="#efefef" stroke-width="0.5" stroke-dasharray="1,1"/>
<line x1="385.12" y1="343.90" x2="385.12" y2="393.00" stroke="#efefef" stroke-width="0.5" stroke-dasharray="1,1"/>
<line x1="400.23" y1="343.90" x2="400.23" y2="393.00" stroke="#efefef" stroke-width="0.5" stroke-dasharray="1,1"/>
<line x1="415.34" y1="343.90" x2="415.34" y2="393.00" stroke="#efefef" stroke-width="0.5" stroke-dasharray="1,1"/>
<line x1="430.45" y1="343.90" x2="430.45" y2="393.00" stroke="#efefef" stroke-width="0.5" stroke-dasharray="1,1"/>
<line x1="445.56" y1="343.90" x2="445.56" y2="393.00" stroke="#efefef" stroke-width="0.5" stroke-dasharray="1,1"/>
<line x1="460.67" y1="343.90" x2="460.67" y2="393.00" stroke="#efefef" stroke-width="0.5" stroke-dasharray="1,1"/>
<line x1="475.78" y1="343.90" x2="475.78" y2="393.00" stroke="#efefef" stroke-width="0.5" stroke-dasharray="1,1"/>
<line x1="490.89" y1="343.90" x2="490.89" y2="393.00" stroke="#efefef" stroke-width="0.5" stroke-dasharray="1,1"/>
<line x1="506.00" y1="343.90" x2="506.00" y2="393.00" stroke="#efefef" stroke-width="0.5" stroke-dasharray="1,1"/>
<path d="M354.9,364.0 L354.9,353.86 C356.4,355.42 357.9,356.59 360.9,356.98 L444.00,364.0 L491.90,368.29 C501.9,369.46 506.4,371.80 507.5,375.70 L507.9,376.09 L507.9,364.0 Z" fill="#c6c6c6"/>
<line x1="354.9" y1="364.00" x2="514.3" y2="364.00" stroke="#c8c8c8" stroke-width="0.4"/>
<line x1="444.00" y1="343.90" x2="444.00" y2="393.00" stroke="#e2e2e2" stroke-width="0.5"/>
<text x="356.10" y="354.70" font-size="9.8" fill="#ad2a66" stroke="#ad2a66" stroke-width="0.25" textLength="25.6" lengthAdjust="spacingAndGlyphs">MEIS1</text>
<text x="382.20" y="351.60" font-size="6.6" fill="#c0407e" stroke="#9a6a80" stroke-width="0.15" textLength="14.6" lengthAdjust="spacingAndGlyphs">High</text>
<text x="451.40" y="354.60" font-size="9.8" fill="#2c3370" stroke="#2c3370" stroke-width="0.2" textLength="25.6" lengthAdjust="spacingAndGlyphs">MEIS1</text>
<text x="478.60" y="349.80" font-size="6" fill="#2c3370" textLength="12.8" lengthAdjust="spacingAndGlyphs">Low</text>
<text x="444.00" y="370.40" font-size="4" fill="#444" text-anchor="middle" textLength="31" lengthAdjust="spacingAndGlyphs">Zero cross at 11922</text>
<text x="435.00" y="390.30" font-size="4" fill="#4646a8" textLength="52.5" lengthAdjust="spacingAndGlyphs">'Desall' (negatively correlated)</text>
<text x="341.90" y="368.25" font-size="4.8" text-anchor="middle" fill="#333" transform="rotate(-90 341.90 368.25)" textLength="67.5" lengthAdjust="spacingAndGlyphs">Ranked list metric (Signal2Noise)</text>
<text x="354.90" y="398.80" font-size="4" text-anchor="middle" fill="#555">0</text>
<text x="370.01" y="398.80" font-size="4" text-anchor="middle" fill="#555">2,000</text>
<text x="385.12" y="398.80" font-size="4" text-anchor="middle" fill="#555">4,000</text>
<text x="400.23" y="398.80" font-size="4" text-anchor="middle" fill="#555">6,000</text>
<text x="415.34" y="398.80" font-size="4" text-anchor="middle" fill="#555">8,000</text>
<text x="430.45" y="398.80" font-size="4" text-anchor="middle" fill="#555">10,000</text>
<text x="445.56" y="398.80" font-size="4" text-anchor="middle" fill="#555">12,000</text>
<text x="460.67" y="398.80" font-size="4" text-anchor="middle" fill="#555">14,000</text>
<text x="475.78" y="398.80" font-size="4" text-anchor="middle" fill="#555">16,000</text>
<text x="490.89" y="398.80" font-size="4" text-anchor="middle" fill="#555">18,000</text>
<text x="506.00" y="398.80" font-size="4" text-anchor="middle" fill="#555">20,000</text>
<text x="434.60" y="405.00" font-size="5.2" text-anchor="middle" fill="#333" textLength="51" lengthAdjust="spacingAndGlyphs">Rank in Ordered Dataset</text>
<rect x="360.40" y="409.00" width="127.3" height="9" fill="#fdfdf8" stroke="#333" stroke-width="0.5"/>
<line x1="362.00" y1="413.50" x2="367.40" y2="413.50" stroke="#66b044" stroke-width="0.8"/>
<text x="368.80" y="415.20" font-size="4.6" fill="#1e1e1e" stroke="#1e1e1e" stroke-width="0.1" textLength="36.9" lengthAdjust="spacingAndGlyphs">Enrichment profile</text>
<line x1="408.40" y1="413.50" x2="412.40" y2="413.50" stroke="#333" stroke-width="0.6" stroke-dasharray="0.8,0.6"/>
<text x="414.30" y="415.20" font-size="4.6" fill="#1e1e1e" stroke="#1e1e1e" stroke-width="0.1" textLength="8" lengthAdjust="spacingAndGlyphs">Hits</text>
<line x1="432.40" y1="413.50" x2="439.30" y2="413.50" stroke="#c8c8c8" stroke-width="0.8"/>
<text x="441.20" y="415.20" font-size="4.6" fill="#1e1e1e" stroke="#1e1e1e" stroke-width="0.1" textLength="44.8" lengthAdjust="spacingAndGlyphs">Ranking metric scores</text>
<text x="6.60" y="9.80" font-size="11" font-weight="bold" fill="#000" >A</text>
<text x="6.60" y="230.20" font-size="11" font-weight="bold" fill="#000" >B</text>
<text x="134.60" y="12.00" font-size="11" font-weight="bold" fill="#000" >C</text>
<text x="6.60" y="455.90" font-size="11" font-weight="bold" fill="#000" >D</text>
<text x="304.40" y="456.40" font-size="11" font-weight="bold" fill="#000" >E</text>
<text x="71.40" y="26.90" font-size="9.7" text-anchor="middle" textLength="98.5" lengthAdjust="spacingAndGlyphs" >AML patients (RNA-Seq)</text>
<text x="71.30" y="38.00" font-size="9.7" text-anchor="middle" textLength="62.5" lengthAdjust="spacingAndGlyphs" >Vizome data set</text>
<line x1="49.30" y1="45.00" x2="49.30" y2="136.80" stroke="#231f20" stroke-width="0.9" />
<line x1="49.30" y1="136.50" x2="95.00" y2="136.50" stroke="#231f20" stroke-width="0.9" />
<line x1="46.10" y1="48.30" x2="49.30" y2="48.30" stroke="#231f20" stroke-width="0.8" />
<text x="44.90" y="51.30" font-size="8.4" text-anchor="end" >10</text>
<line x1="46.10" y1="70.45" x2="49.30" y2="70.45" stroke="#231f20" stroke-width="0.8" />
<text x="44.90" y="73.45" font-size="8.4" text-anchor="end" >5</text>
<line x1="46.10" y1="92.60" x2="49.30" y2="92.60" stroke="#231f20" stroke-width="0.8" />
<text x="44.90" y="95.60" font-size="8.4" text-anchor="end" >0</text>
<line x1="46.10" y1="114.75" x2="49.30" y2="114.75" stroke="#231f20" stroke-width="0.8" />
<text x="44.90" y="117.75" font-size="8.4" text-anchor="end" >−5</text>
<line x1="46.10" y1="136.90" x2="49.30" y2="136.90" stroke="#231f20" stroke-width="0.8" />
<text x="44.90" y="139.90" font-size="8.4" text-anchor="end" >−10</text>
<line x1="59.50" y1="136.50" x2="59.50" y2="138.80" stroke="#231f20" stroke-width="0.8" />
<line x1="84.50" y1="136.50" x2="84.50" y2="138.80" stroke="#231f20" stroke-width="0.8" />
<line x1="49.30" y1="92.60" x2="95.00" y2="92.60" stroke="#7a7a7a" stroke-width="0.6" />
<text x="27.9" y="92.0" font-size="8.6" text-anchor="middle" transform="rotate(-90 27.9 92.0)" textLength="75" lengthAdjust="spacingAndGlyphs"><tspan font-style="italic">MEIS1</tspan> expression (RPKM)</text>
<line x1="59.70" y1="52.60" x2="83.50" y2="52.60" stroke="#555" stroke-width="1.0" />
<text x="71.7" y="54.4" font-size="8.2" font-weight="bold" text-anchor="middle" fill="#222" textLength="7.8" lengthAdjust="spacingAndGlyphs">***</text>
<line x1="59.60" y1="61.40" x2="59.60" y2="77.60" stroke="#333" stroke-width="0.8" />
<line x1="57.10" y1="61.40" x2="62.40" y2="61.40" stroke="#333" stroke-width="0.9" />
<line x1="57.10" y1="77.60" x2="62.40" y2="77.60" stroke="#333" stroke-width="0.9" />
<rect x="55.30" y="65.10" width="8.50" height="4.10" fill="#eba3ad" />
<line x1="55.30" y1="67.00" x2="63.80" y2="67.00" stroke="#a3253b" stroke-width="1.2" />
<circle cx="55.3" cy="79.8" r="1.35" fill="#c41e3a"/>
<circle cx="59.4" cy="80.2" r="1.35" fill="#c41e3a"/>
<circle cx="55" cy="83.4" r="1.35" fill="#c41e3a"/>
<circle cx="59.4" cy="84.3" r="1.35" fill="#c41e3a"/>
<circle cx="63.4" cy="84.3" r="1.35" fill="#c41e3a"/>
<circle cx="59.4" cy="87.2" r="1.35" fill="#c41e3a"/>
<circle cx="58.6" cy="86.0" r="1.35" fill="#c41e3a"/>
<line x1="83.90" y1="59.40" x2="83.90" y2="104.00" stroke="#333" stroke-width="0.8" />
<line x1="81.40" y1="59.40" x2="86.40" y2="59.40" stroke="#333" stroke-width="0.9" />
<rect x="80.00" y="71.10" width="8.80" height="12.30" fill="#94b3d6" />
<line x1="80.00" y1="75.80" x2="88.80" y2="75.80" stroke="#2a4d7a" stroke-width="1.2" />
<circle cx="81.79" cy="104.23" r="1.2" fill="#1d4b7e"/>
<circle cx="83.00" cy="104.26" r="1.2" fill="#1d4b7e"/>
<circle cx="85.36" cy="103.94" r="1.2" fill="#1d4b7e"/>
<circle cx="79.72" cy="104.40" r="1.2" fill="#1d4b7e"/>
<circle cx="81.99" cy="104.84" r="1.2" fill="#1d4b7e"/>
<circle cx="88.76" cy="104.98" r="1.2" fill="#1d4b7e"/>
<circle cx="87.30" cy="104.99" r="1.2" fill="#1d4b7e"/>
<circle cx="85.48" cy="104.79" r="1.2" fill="#1d4b7e"/>
<circle cx="85.44" cy="106.02" r="1.2" fill="#1d4b7e"/>
<circle cx="84.41" cy="105.94" r="1.2" fill="#1d4b7e"/>
<circle cx="85.78" cy="105.54" r="1.2" fill="#1d4b7e"/>
<circle cx="86.58" cy="105.85" r="1.2" fill="#1d4b7e"/>
<circle cx="82.37" cy="106.32" r="1.2" fill="#1d4b7e"/>
<circle cx="87.56" cy="106.58" r="1.2" fill="#1d4b7e"/>
<circle cx="86.21" cy="106.83" r="1.2" fill="#1d4b7e"/>
<circle cx="86.17" cy="106.85" r="1.2" fill="#1d4b7e"/>
<circle cx="83.23" cy="107.58" r="1.2" fill="#1d4b7e"/>
<circle cx="83.69" cy="107.66" r="1.2" fill="#1d4b7e"/>
<circle cx="87.69" cy="107.16" r="1.2" fill="#1d4b7e"/>
<circle cx="80.85" cy="107.23" r="1.2" fill="#1d4b7e"/>
<circle cx="87.37" cy="108.16" r="1.2" fill="#1d4b7e"/>
<circle cx="85.06" cy="108.08" r="1.2" fill="#1d4b7e"/>
<circle cx="84.25" cy="108.13" r="1.2" fill="#1d4b7e"/>
<circle cx="83.19" cy="109.05" r="1.2" fill="#1d4b7e"/>
<circle cx="84.77" cy="109.24" r="1.2" fill="#1d4b7e"/>
<circle cx="85.44" cy="109.26" r="1.2" fill="#1d4b7e"/>
<circle cx="86.62" cy="110.09" r="1.2" fill="#1d4b7e"/>
<circle cx="85.36" cy="109.60" r="1.2" fill="#1d4b7e"/>
<circle cx="86.65" cy="110.08" r="1.2" fill="#1d4b7e"/>
<circle cx="86.95" cy="110.64" r="1.2" fill="#1d4b7e"/>
<circle cx="85.65" cy="110.43" r="1.2" fill="#1d4b7e"/>
<circle cx="86.45" cy="110.64" r="1.2" fill="#1d4b7e"/>
<circle cx="82.74" cy="111.14" r="1.2" fill="#1d4b7e"/>
<circle cx="86.61" cy="111.69" r="1.2" fill="#1d4b7e"/>
<circle cx="81.40" cy="111.58" r="1.2" fill="#1d4b7e"/>
<circle cx="83.59" cy="111.99" r="1.2" fill="#1d4b7e"/>
<circle cx="82.80" cy="112.36" r="1.2" fill="#1d4b7e"/>
<circle cx="86.73" cy="111.93" r="1.2" fill="#1d4b7e"/>
<circle cx="84.98" cy="112.73" r="1.2" fill="#1d4b7e"/>
<circle cx="85.69" cy="112.90" r="1.2" fill="#1d4b7e"/>
<circle cx="86.79" cy="113.29" r="1.2" fill="#1d4b7e"/>
<circle cx="84.24" cy="114.10" r="1.2" fill="#1d4b7e"/>
<circle cx="82.91" cy="113.55" r="1.2" fill="#1d4b7e"/>
<circle cx="84.88" cy="113.52" r="1.2" fill="#1d4b7e"/>
<circle cx="82.14" cy="114.54" r="1.2" fill="#1d4b7e"/>
<circle cx="84.95" cy="114.39" r="1.2" fill="#1d4b7e"/>
<circle cx="81.09" cy="114.82" r="1.2" fill="#1d4b7e"/>
<circle cx="82.93" cy="115.68" r="1.2" fill="#1d4b7e"/>
<circle cx="86.90" cy="115.33" r="1.2" fill="#1d4b7e"/>
<circle cx="83.93" cy="115.41" r="1.2" fill="#1d4b7e"/>
<circle cx="84.95" cy="116.26" r="1.2" fill="#1d4b7e"/>
<circle cx="84.51" cy="116.27" r="1.2" fill="#1d4b7e"/>
<circle cx="86.49" cy="116.20" r="1.2" fill="#1d4b7e"/>
<circle cx="83.84" cy="117.13" r="1.2" fill="#1d4b7e"/>
<circle cx="82.84" cy="116.88" r="1.2" fill="#1d4b7e"/>
<circle cx="86.68" cy="117.01" r="1.2" fill="#1d4b7e"/>
<circle cx="84.45" cy="117.51" r="1.2" fill="#1d4b7e"/>
<circle cx="83.76" cy="117.85" r="1.2" fill="#1d4b7e"/>
<circle cx="81.70" cy="117.87" r="1.2" fill="#1d4b7e"/>
<circle cx="84.89" cy="118.34" r="1.2" fill="#1d4b7e"/>
<circle cx="84.86" cy="118.58" r="1.2" fill="#1d4b7e"/>
<circle cx="85.13" cy="118.51" r="1.2" fill="#1d4b7e"/>
<circle cx="85.28" cy="119.54" r="1.2" fill="#1d4b7e"/>
<circle cx="81.72" cy="119.14" r="1.2" fill="#1d4b7e"/>
<circle cx="85.12" cy="119.68" r="1.2" fill="#1d4b7e"/>
<circle cx="82.91" cy="120.17" r="1.2" fill="#1d4b7e"/>
<circle cx="84.68" cy="120.09" r="1.2" fill="#1d4b7e"/>
<circle cx="83.49" cy="120.09" r="1.2" fill="#1d4b7e"/>
<circle cx="83.52" cy="121.06" r="1.2" fill="#1d4b7e"/>
<circle cx="83.16" cy="120.93" r="1.2" fill="#1d4b7e"/>
<circle cx="85.62" cy="120.72" r="1.2" fill="#1d4b7e"/>
<circle cx="84.56" cy="121.94" r="1.2" fill="#1d4b7e"/>
<circle cx="83.21" cy="121.63" r="1.2" fill="#1d4b7e"/>
<circle cx="85.78" cy="121.64" r="1.2" fill="#1d4b7e"/>
<circle cx="82.57" cy="122.56" r="1.2" fill="#1d4b7e"/>
<circle cx="85.23" cy="122.36" r="1.2" fill="#1d4b7e"/>
<circle cx="83.27" cy="122.50" r="1.2" fill="#1d4b7e"/>
<circle cx="85.93" cy="123.36" r="1.2" fill="#1d4b7e"/>
<circle cx="86.05" cy="123.20" r="1.2" fill="#1d4b7e"/>
<circle cx="83.35" cy="123.49" r="1.2" fill="#1d4b7e"/>
<circle cx="86.20" cy="124.17" r="1.2" fill="#1d4b7e"/>
<circle cx="82.77" cy="123.97" r="1.2" fill="#1d4b7e"/>
<circle cx="84.35" cy="124.01" r="1.2" fill="#1d4b7e"/>
<text x="64.3" y="146.3" font-size="8.5" text-anchor="end" transform="rotate(-45 64.3 146.3)">NPM1<tspan font-size="5.4" dy="-3">C+</tspan><tspan dy="3"> AML </tspan><tspan font-size="7.6">(n=107)</tspan></text>
<text x="89.6" y="146.6" font-size="8.5" text-anchor="end" transform="rotate(-45 89.6 146.6)">NPM1<tspan font-size="5.4" dy="-3">WT</tspan><tspan dy="3"> AML </tspan><tspan font-size="7.6">(n=340)</tspan></text>
<text x="72.20" y="242.00" font-size="9.7" text-anchor="middle" textLength="100.5" lengthAdjust="spacingAndGlyphs" >AML patients (RNA-Seq)</text>
<text x="71.30" y="252.50" font-size="9.7" text-anchor="middle" textLength="62.5" lengthAdjust="spacingAndGlyphs" >Vizome data set</text>
<line x1="49.30" y1="260.40" x2="49.30" y2="351.70" stroke="#231f20" stroke-width="0.9" />
<line x1="49.30" y1="351.30" x2="94.20" y2="351.30" stroke="#231f20" stroke-width="0.9" />
<line x1="46.10" y1="263.06" x2="49.30" y2="263.06" stroke="#231f20" stroke-width="0.8" />
<text x="44.70" y="266.06" font-size="8.4" text-anchor="end" >8</text>
<line x1="46.10" y1="285.12" x2="49.30" y2="285.12" stroke="#231f20" stroke-width="0.8" />
<text x="44.70" y="288.12" font-size="8.4" text-anchor="end" >6</text>
<line x1="46.10" y1="307.18" x2="49.30" y2="307.18" stroke="#231f20" stroke-width="0.8" />
<text x="44.70" y="310.18" font-size="8.4" text-anchor="end" >4</text>
<line x1="46.10" y1="329.24" x2="49.30" y2="329.24" stroke="#231f20" stroke-width="0.8" />
<text x="44.70" y="332.24" font-size="8.4" text-anchor="end" >2</text>
<line x1="46.10" y1="351.30" x2="49.30" y2="351.30" stroke="#231f20" stroke-width="0.8" />
<text x="44.70" y="354.30" font-size="8.4" text-anchor="end" >0</text>
<line x1="59.80" y1="351.30" x2="59.80" y2="354.00" stroke="#231f20" stroke-width="0.8" />
<line x1="85.50" y1="351.30" x2="85.50" y2="354.00" stroke="#231f20" stroke-width="0.8" />
<text x="31.9" y="307.5" font-size="8.6" text-anchor="middle" transform="rotate(-90 31.9 307.5)" textLength="76" lengthAdjust="spacingAndGlyphs"><tspan font-style="italic">MEIS1</tspan> expression (RPKM)</text>
<line x1="59.50" y1="268.00" x2="83.00" y2="268.00" stroke="#555" stroke-width="1.0" />
<text x="71.3" y="269.1" font-size="8.2" font-weight="bold" text-anchor="middle" fill="#222" textLength="7.8" lengthAdjust="spacingAndGlyphs">***</text>
<line x1="59.80" y1="273.10" x2="59.80" y2="314.40" stroke="#333" stroke-width="0.8" />
<line x1="57.10" y1="273.10" x2="62.50" y2="273.10" stroke="#333" stroke-width="0.9" />
<line x1="57.10" y1="314.40" x2="62.50" y2="314.40" stroke="#333" stroke-width="0.9" />
<rect x="55.30" y="280.30" width="9.00" height="13.10" fill="#e994a3" />
<rect x="55.30" y="280.30" width="9.00" height="4.00" fill="#eeaab5" />
<line x1="55.30" y1="286.70" x2="64.30" y2="286.70" stroke="#8e1f33" stroke-width="1.2" />
<circle cx="59.8" cy="318.7" r="1.35" fill="#c41e3a"/>
<circle cx="59.8" cy="321.1" r="1.35" fill="#c41e3a"/>
<circle cx="59.8" cy="327.4" r="1.35" fill="#c41e3a"/>
<circle cx="59.8" cy="329.6" r="1.35" fill="#c41e3a"/>
<circle cx="59.8" cy="331.9" r="1.35" fill="#c41e3a"/>
<circle cx="59.8" cy="336.8" r="1.35" fill="#c41e3a"/>
<line x1="81.20" y1="295.70" x2="89.70" y2="295.70" stroke="#333" stroke-width="0.9" />
<line x1="82.60" y1="295.70" x2="87.80" y2="295.70" stroke="#111" stroke-width="1.5" />
<circle cx="85.5" cy="303.5" r="1.25" fill="#231f20"/>
<text x="64.3" y="360.8" font-size="8.5" text-anchor="end" transform="rotate(-45 64.3 360.8)">AML NPM1C<tspan font-size="5.4" dy="-3">+</tspan><tspan dy="3" font-size="7.6"> (n=107)</tspan></text>
<text x="89.6" y="361.0" font-size="8.5" text-anchor="end" transform="rotate(-45 89.6 361.0)" textLength="89" lengthAdjust="spacingAndGlyphs">Healthy BM CD34<tspan font-size="5.4" dy="-3">+</tspan><tspan dy="3" font-size="7.6"> (n=13)</tspan></text>
<text x="332.10" y="20.40" font-size="9.7" text-anchor="middle" textLength="163.4" lengthAdjust="spacingAndGlyphs" >AML patients (RNA-Seq) TCGA data set</text>
<text x="42.5" y="470.8" font-size="9" textLength="180.8" lengthAdjust="spacingAndGlyphs">Experimental design – Npm1c<tspan dy="-2.5" font-size="6.5">*</tspan><tspan dy="2.5"> mouse model</tspan></text>
<text x="10.5" y="502" font-size="9"><tspan font-style="italic">Npm1</tspan><tspan font-style="italic" font-size="7.2" dx="0.4" dy="-3.6">cA/+</tspan></text>
<text x="23.4" y="552.3" font-size="9" text-anchor="middle">5-FU</text>
<text x="23.4" y="563.8" font-size="9" text-anchor="middle">treated</text>
<text x="96.4" y="551.2" font-size="9" text-anchor="middle" textLength="60.8" lengthAdjust="spacingAndGlyphs">Transduce with</text>
<text x="96.4" y="562.9" font-size="9" text-anchor="middle"><tspan font-style="italic">Meis1</tspan> or <tspan font-style="italic">YFP</tspan></text>
<text x="133.4" y="491.5" font-size="9" text-anchor="middle">Sort and</text>
<text x="133.4" y="502.2" font-size="9" text-anchor="middle">transplant</text>
<text x="133.4" y="513.0" font-size="9" text-anchor="middle">(i.v.)</text>
<text x="166.4" y="502.6" font-size="9"><tspan font-style="italic">Npm1</tspan><tspan font-style="italic" font-size="7.4" dx="1.3" dy="-3.6">+/+</tspan></text>
<text x="200.0" y="514.6" font-size="9">4 weeks</text>
<text x="263.2" y="492.7" font-size="9" text-anchor="middle">Activate</text>
<text x="262.3" y="504.0" font-size="9" text-anchor="middle" textLength="60.6" lengthAdjust="spacingAndGlyphs"><tspan font-style="italic">Npm1</tspan> mutation</text>
<text x="263.0" y="553.4" font-size="9" text-anchor="middle">pIpC</text>
<text x="263.0" y="563.5" font-size="9" text-anchor="middle">injection</text>
<g transform="translate(0 0.6)">
<path d="M13.8,519.2 C10,520.5 7.3,523.8 7.6,528.2 C8.0,532.3 12,534.2 17,534.2 C24,534 30,532.6 36,532.9 C40,533.1 43.2,534.6 43.2,537.4 C43.2,538.8 42.8,540 42.5,540.8" fill="none" stroke="#3c3c3c" stroke-width="1.3" stroke-linecap="round"/>
<path d="M14.1,517.9 C15.5,514.5 19,510.5 23.3,509.5 C26,508.8 30,509.2 34.3,511.2 C34.5,508.5 36,507 38.2,507.1 C40,507.2 41.5,508.5 42,511.2 C44.5,512 47,513 48.6,514.6 L47.3,516.2 C46,517 45,517.5 44.4,518.4 C43,520 42,521.5 41.6,522.5 L42.2,523.5 L37.8,523.9 L38.6,522.8 L39.5,521.8 C37,523 35,523.8 33,524.2 L36.5,525.3 L38.9,526.2 L35.5,526.8 L31.5,525.6 C30.5,524.9 29,524.3 28,524.1 C24,524.3 20,524 17.5,522.8 C15.8,521.8 14.5,520 14.1,517.9 Z" fill="#bebebe" stroke="#333" stroke-width="0.75" stroke-linejoin="round"/>
<path d="M35,511 C35.5,509 37,508.3 38.5,508.4" fill="none" stroke="#555" stroke-width="0.4"/>
<circle cx="43.6" cy="514.0" r="0.7" fill="#222"/>
<circle cx="47.6" cy="515.2" r="0.75" fill="#111"/>
</g>
<g transform="translate(148.2 1.7)">
<path d="M13.8,519.2 C10,520.5 7.3,523.8 7.6,528.2 C8.0,532.3 12,534.2 17,534.2 C24,534 30,532.6 36,532.9 C40,533.1 43.2,534.6 43.2,537.4 C43.2,538.8 42.8,540 42.5,540.8" fill="none" stroke="#3c3c3c" stroke-width="1.3" stroke-linecap="round"/>
<path d="M14.1,517.9 C15.5,514.5 19,510.5 23.3,509.5 C26,508.8 30,509.2 34.3,511.2 C34.5,508.5 36,507 38.2,507.1 C40,507.2 41.5,508.5 42,511.2 C44.5,512 47,513 48.6,514.6 L47.3,516.2 C46,517 45,517.5 44.4,518.4 C43,520 42,521.5 41.6,522.5 L42.2,523.5 L37.8,523.9 L38.6,522.8 L39.5,521.8 C37,523 35,523.8 33,524.2 L36.5,525.3 L38.9,526.2 L35.5,526.8 L31.5,525.6 C30.5,524.9 29,524.3 28,524.1 C24,524.3 20,524 17.5,522.8 C15.8,521.8 14.5,520 14.1,517.9 Z" fill="#bebebe" stroke="#333" stroke-width="0.75" stroke-linejoin="round"/>
<path d="M35,511 C35.5,509 37,508.3 38.5,508.4" fill="none" stroke="#555" stroke-width="0.4"/>
<circle cx="43.6" cy="514.0" r="0.7" fill="#222"/>
<circle cx="47.6" cy="515.2" r="0.75" fill="#111"/>
</g>
<g transform="translate(235.1 2.7)">
<path d="M13.8,519.2 C10,520.5 7.3,523.8 7.6,528.2 C8.0,532.3 12,534.2 17,534.2 C24,534 30,532.6 36,532.9 C40,533.1 43.2,534.6 43.2,537.4 C43.2,538.8 42.8,540 42.5,540.8" fill="none" stroke="#3c3c3c" stroke-width="1.3" stroke-linecap="round"/>
<path d="M14.1,517.9 C15.5,514.5 19,510.5 23.3,509.5 C26,508.8 30,509.2 34.3,511.2 C34.5,508.5 36,507 38.2,507.1 C40,507.2 41.5,508.5 42,511.2 C44.5,512 47,513 48.6,514.6 L47.3,516.2 C46,517 45,517.5 44.4,518.4 C43,520 42,521.5 41.6,522.5 L42.2,523.5 L37.8,523.9 L38.6,522.8 L39.5,521.8 C37,523 35,523.8 33,524.2 L36.5,525.3 L38.9,526.2 L35.5,526.8 L31.5,525.6 C30.5,524.9 29,524.3 28,524.1 C24,524.3 20,524 17.5,522.8 C15.8,521.8 14.5,520 14.1,517.9 Z" fill="#bebebe" stroke="#333" stroke-width="0.75" stroke-linejoin="round"/>
<path d="M35,511 C35.5,509 37,508.3 38.5,508.4" fill="none" stroke="#555" stroke-width="0.4"/>
<circle cx="43.6" cy="514.0" r="0.7" fill="#222"/>
<circle cx="47.6" cy="515.2" r="0.75" fill="#111"/>
</g>
<defs><radialGradient id="dish1" cx="0.45" cy="0.4" r="0.6"><stop offset="0" stop-color="#dcd9e6"/><stop offset="0.75" stop-color="#cbc7da"/><stop offset="1" stop-color="#aaa6c0"/></radialGradient><radialGradient id="dish2" cx="0.35" cy="0.35" r="0.7"><stop offset="0" stop-color="#ebe9f1"/><stop offset="0.6" stop-color="#d4d1e0"/><stop offset="1" stop-color="#b4b0c8"/></radialGradient></defs>
<circle cx="91" cy="511.7" r="11.6" fill="url(#dish1)"/>
<circle cx="102.6" cy="522.6" r="12.4" fill="url(#dish2)" opacity="0.92"/>
<line x1="50.8" y1="522.3" x2="71.5" y2="522.3" stroke="#111" stroke-width="1.0"/>
<path d="M70.7,519.6999999999999 L75.5,522.3 L70.7,524.9 Z" fill="#111"/>
<line x1="123.0" y1="521.8" x2="143.7" y2="521.8" stroke="#111" stroke-width="1.0"/>
<path d="M142.89999999999998,519.1999999999999 L147.7,521.8 L142.89999999999998,524.4 Z" fill="#111"/>
<line x1="208.0" y1="522.0" x2="228.7" y2="522.0" stroke="#111" stroke-width="1.0"/>
<path d="M227.89999999999998,519.4 L232.7,522.0 L227.89999999999998,524.6 Z" fill="#111"/>
<line x1="333.6" y1="460" x2="333.6" y2="553.1" stroke="#111" stroke-width="0.9"/>
<line x1="333.20000000000005" y1="552.6" x2="470.3" y2="552.6" stroke="#111" stroke-width="0.9"/>
<line x1="330.40000000000003" y1="552.60" x2="333.6" y2="552.60" stroke="#111" stroke-width="0.9"/>
<text x="327.60" y="555.50" font-size="8" text-anchor="end">0</text>
<line x1="330.40000000000003" y1="508.38" x2="333.6" y2="508.38" stroke="#111" stroke-width="0.9"/>
<text x="327.60" y="511.27" font-size="8" text-anchor="end">50</text>
<line x1="330.40000000000003" y1="464.15" x2="333.6" y2="464.15" stroke="#111" stroke-width="0.9"/>
<text x="327.60" y="467.05" font-size="8" text-anchor="end">100</text>
<line x1="333.60" y1="552.6" x2="333.60" y2="555.2" stroke="#111" stroke-width="0.8"/>
<text x="333.60" y="564.2" font-size="8" text-anchor="middle">0</text>
<line x1="375.65" y1="552.6" x2="375.65" y2="555.2" stroke="#111" stroke-width="0.8"/>
<text x="375.65" y="564.2" font-size="8" text-anchor="middle">100</text>
<line x1="417.70" y1="552.6" x2="417.70" y2="555.2" stroke="#111" stroke-width="0.8"/>
<text x="417.70" y="564.2" font-size="8" text-anchor="middle">200</text>
<line x1="459.75" y1="552.6" x2="459.75" y2="555.2" stroke="#111" stroke-width="0.8"/>
<text x="459.75" y="564.2" font-size="8" text-anchor="middle">300</text>
<text x="401.8" y="576.8" font-size="7.2" text-anchor="middle" style="stroke-width:0.4px" textLength="57.2" lengthAdjust="spacingAndGlyphs">Days post transplant</text>
<text x="312.2" y="508.3" font-size="7.2" text-anchor="middle" style="stroke-width:0.4px" transform="rotate(-90 312.2 508.3)" textLength="45" lengthAdjust="spacingAndGlyphs">Percent survival</text>
<text x="366" y="527.2" font-size="6.6" textLength="20.5" lengthAdjust="spacingAndGlyphs">p=0.03</text>
<line x1="345.5" y1="561.5" x2="345.5" y2="556.5" stroke="#111" stroke-width="0.8"/>
<path d="M343.4,557.5 L345.5,553.8 L347.6,557.5 Z" fill="#111"/>
<text x="345.3" y="571.6" font-size="7.4" text-anchor="middle">pIpC</text>
<path d="M333.60,464.30 L337.90,464.30 L337.90,493.60 L340.00,493.60 L340.00,523.00 L341.40,523.00 L341.40,552.40" fill="none" stroke="#3fa34d" stroke-width="1.3" stroke-linejoin="miter"/>
<path d="M333.60,464.30 L401.70,464.30 L401.70,474.80 L406.00,474.80 L406.00,485.80 L410.80,485.80 L410.80,507.90 L419.40,507.90 L419.40,519.00 L437.10,519.00 L437.10,541.50 L464.00,541.50 L464.00,552.20" fill="none" stroke="#d0203a" stroke-width="1.3" stroke-linejoin="miter"/>
<path d="M333.60,464.30 L365.40,464.30 L365.40,473.00 L372.70,473.00 L372.70,481.30 L373.90,481.30 L373.90,491.00 L376.50,491.00 L376.50,499.60 L399.20,499.60 L399.20,507.50 L400.80,507.50 L400.80,516.90 L409.20,516.90 L409.20,543.80 L452.10,543.80 L452.10,552.20" fill="none" stroke="#2a5584" stroke-width="1.3" stroke-linejoin="miter"/>
<rect x="337.3" y="492.7" width="1.4" height="1.4" fill="#1f4a2a"/>
<rect x="338.7" y="522.0999999999999" width="1.4" height="1.4" fill="#1f4a2a"/>
<line x1="415.2" y1="462.5" x2="423.5" y2="462.5" stroke="#d0203a" stroke-width="1.1"/>
<line x1="419.3" y1="460.7" x2="419.3" y2="462.5" stroke="#222" stroke-width="0.7"/>
<text x="425.8" y="465.1" font-size="7.4" font-style="italic" textLength="73.1" lengthAdjust="spacingAndGlyphs">Npm1<tspan font-size="4.8" dy="-3">cA/+</tspan><tspan dy="3" font-style="normal"> + </tspan>YFP (n=8)</text>
<line x1="415.2" y1="471.2" x2="423.5" y2="471.2" stroke="#2a5584" stroke-width="1.1"/>
<line x1="419.3" y1="469.4" x2="419.3" y2="471.2" stroke="#222" stroke-width="0.7"/>
<text x="425.8" y="473.8" font-size="7.4" font-style="italic" textLength="82.6" lengthAdjust="spacingAndGlyphs">Npm1<tspan font-size="4.8" dy="-3">cA/+</tspan><tspan dy="3" font-style="normal"> + </tspan>Meis1 (n=10)</text>
<line x1="415.2" y1="479.8" x2="423.5" y2="479.8" stroke="#3fa34d" stroke-width="1.1"/>
<line x1="419.3" y1="478.0" x2="419.3" y2="479.8" stroke="#222" stroke-width="0.7"/>
<text x="425.8" y="482.40000000000003" font-size="7.4" font-style="italic" textLength="94.2" lengthAdjust="spacingAndGlyphs">Npm1<tspan font-size="4.8" dy="-3">cA/+</tspan><tspan dy="3" font-style="normal"> + </tspan>Meis1 2nd (n=6)</text>
</svg>
</body></html>
